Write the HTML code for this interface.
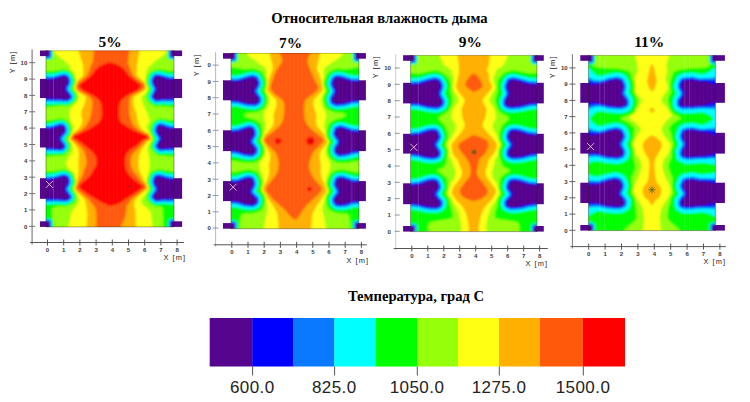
<!DOCTYPE html>
<html><head><meta charset="utf-8"><title>chart</title>
<style>
html,body{margin:0;padding:0;background:#fff;}
svg{display:block}
text{font-family:"Liberation Sans",sans-serif;}
.tk{font-size:6px;font-weight:bold;fill:#3a3a3a}
.al{font-size:7.4px;fill:#222;letter-spacing:1.1px}
.pt{font-family:"Liberation Serif",serif;font-weight:bold;font-size:15.4px;fill:#000}
.tt{font-family:"Liberation Serif",serif;font-weight:bold;font-size:14.6px;fill:#000}
.cb{font-size:17px;fill:#222;letter-spacing:0.45px}
</style></head><body>
<svg width="750" height="402" viewBox="0 0 750 402">
<defs><filter id="bl" x="-5%" y="-5%" width="110%" height="110%"><feGaussianBlur stdDeviation="1.0"/></filter>
<clipPath id="cp0"><rect x="46" y="50.5" width="128.0" height="176.4"/></clipPath><clipPath id="cp1"><rect x="231" y="53.1" width="127.9" height="175.6"/></clipPath><clipPath id="cp2"><rect x="410.6" y="55.2" width="126.3" height="176.4"/></clipPath><clipPath id="cp3"><rect x="588.5" y="55.2" width="126.9" height="175.4"/></clipPath></defs>
<rect width="750" height="402" fill="#fff"/>
<text x="379.5" y="23.3" text-anchor="middle" class="tt">Относительная влажность дыма</text>
<text x="416" y="300.5" text-anchor="middle" class="tt" style="font-size:14.6px">Температура, град С</text>
<rect x="209.7" y="318" width="42.9" height="48.5" fill="#56058f"/>
<rect x="252.3" y="318" width="41.3" height="48.5" fill="#0000ff"/>
<rect x="293.3" y="318" width="41.3" height="48.5" fill="#0a78ff"/>
<rect x="334.3" y="318" width="41.6" height="48.5" fill="#00ffff"/>
<rect x="375.6" y="318" width="41.7" height="48.5" fill="#00ff00"/>
<rect x="417" y="318" width="41.2" height="48.5" fill="#96ff0a"/>
<rect x="457.9" y="318" width="41.4" height="48.5" fill="#ffff14"/>
<rect x="499" y="318" width="41.3" height="48.5" fill="#ffb000"/>
<rect x="540" y="318" width="43.3" height="48.5" fill="#ff5a0a"/>
<rect x="583" y="318" width="42.0" height="48.5" fill="#ff0000"/>
<path d="M252.6,366.5v9" stroke="#444" stroke-width="0.9"/>
<text x="252.3" y="393" text-anchor="middle" class="cb">600.0</text>
<path d="M334.6,366.5v9" stroke="#444" stroke-width="0.9"/>
<text x="334.3" y="393" text-anchor="middle" class="cb">825.0</text>
<path d="M417.3,366.5v9" stroke="#444" stroke-width="0.9"/>
<text x="417.0" y="393" text-anchor="middle" class="cb">1050.0</text>
<path d="M499.3,366.5v9" stroke="#444" stroke-width="0.9"/>
<text x="499.0" y="393" text-anchor="middle" class="cb">1275.0</text>
<path d="M583.3,366.5v9" stroke="#444" stroke-width="0.9"/>
<text x="583.0" y="393" text-anchor="middle" class="cb">1500.0</text>
<rect x="40" y="178.2" width="7.0" height="20.6" fill="#56058f"/>
<rect x="173" y="178.2" width="9.1" height="20.6" fill="#56058f"/>
<rect x="40" y="128.2" width="7.0" height="19.3" fill="#56058f"/>
<rect x="173" y="128.2" width="9.1" height="19.3" fill="#56058f"/>
<rect x="40" y="78.9" width="7.0" height="19.1" fill="#56058f"/>
<rect x="173" y="78.9" width="9.1" height="19.1" fill="#56058f"/>
<rect x="40" y="50.5" width="7.0" height="5.6" fill="#56058f"/>
<rect x="173" y="50.5" width="9.1" height="5.6" fill="#56058f"/>
<rect x="40" y="221.3" width="7.0" height="5.6" fill="#56058f"/>
<rect x="173" y="221.3" width="9.1" height="5.6" fill="#56058f"/>
<g filter="url(#bl)" clip-path="url(#cp0)">
<rect x="42" y="46.5" width="136.0" height="184.4" fill="#56058f"/>
<path fill="#0000ff" fill-rule="evenodd" d="M170.8,230.7 166.8,230.8 109.8,230.9 50.2,230.7 49.5,230.6 49.5,222.7 49.2,221.7 48.2,221.4 42.2,221.4 42.1,217.7 42.1,210.2 42.2,198.3 48.2,198.3 50.8,198.8 58.8,198.8 60.8,199.2 63.8,199.3 65.8,199.7 67.2,199.2 68.6,198.2 69.2,197.7 69.4,197.2 69.2,196.2 67.2,193.2 64.4,189.7 64.3,189.2 65.0,187.7 66.6,185.7 68.3,181.7 68.2,180.7 67.4,178.2 66.6,177.2 65.2,176.6 63.8,176.3 60.2,177.2 53.2,179.5 50.8,179.6 48.8,180.0 42.2,180.1 42.0,163.2 42.2,147.4 46.2,147.4 48.2,147.8 53.2,147.9 54.8,148.3 58.2,148.4 60.2,148.8 61.2,148.6 62.2,148.1 63.2,147.1 63.5,146.2 63.4,145.7 61.2,142.2 59.5,140.2 58.6,138.7 58.6,138.2 59.3,137.2 63.2,133.2 64.5,131.2 64.8,130.2 63.6,126.7 62.8,126.0 61.2,125.6 58.9,126.2 55.8,127.4 50.8,129.0 42.2,129.1 42.0,113.7 42.2,98.1 46.2,98.1 47.8,98.3 50.8,98.4 53.2,98.8 60.8,98.9 62.8,99.3 66.8,99.4 69.2,98.2 70.1,97.2 70.1,96.7 69.7,95.7 64.6,89.2 64.9,88.2 67.0,85.2 68.3,81.7 68.2,80.5 67.2,78.0 66.8,77.2 66.2,76.8 64.8,76.3 63.8,76.2 52.8,79.6 48.8,79.6 46.2,80.1 42.2,80.1 42.0,61.2 42.2,56.5 48.2,56.5 49.2,56.2 49.5,55.2 49.5,46.8 53.8,46.5 103.2,46.5 166.2,46.5 170.2,46.7 171.0,46.8 171.0,55.2 171.2,56.2 172.2,56.5 177.8,56.5 178.0,61.2 177.8,79.9 173.8,79.9 172.2,79.6 168.2,79.6 158.2,76.3 157.2,76.2 155.5,76.7 154.7,77.2 154.1,78.2 153.2,81.2 154.5,85.2 156.9,88.7 156.7,89.7 153.8,95.3 153.3,96.7 153.8,97.7 155.8,99.2 156.8,99.4 159.8,99.3 161.8,98.9 168.2,98.8 170.8,98.4 177.8,98.3 178.0,117.7 177.8,129.1 170.2,129.0 166.8,127.9 161.2,125.8 160.2,125.6 158.8,126.0 157.9,126.7 157.2,128.4 156.9,130.2 157.1,131.2 158.8,134.6 161.1,137.2 161.5,138.2 161.0,139.7 159.2,142.3 157.6,145.7 157.8,146.7 159.2,148.2 160.0,148.7 160.8,148.8 162.8,148.4 166.2,148.3 168.2,147.8 177.8,147.5 178.0,162.7 177.8,180.1 172.2,180.0 170.2,179.6 168.2,179.5 159.6,176.7 158.2,176.4 156.8,176.7 155.8,177.4 155.2,178.3 154.4,181.2 154.8,183.0 155.8,185.4 157.6,188.2 157.9,189.2 157.5,190.2 155.3,193.2 153.4,196.7 153.7,197.7 155.2,199.1 156.2,199.6 157.2,199.7 158.8,199.3 160.8,199.2 162.8,198.8 170.2,198.8 172.8,198.3 177.8,198.3 177.9,215.2 177.8,221.4 172.2,221.4 171.2,221.7 171.0,222.7 171.0,230.6 170.8,230.7Z"/>
<path fill="#0a78ff" fill-rule="evenodd" d="M169.8,230.7 108.8,230.9 53.8,230.8 50.3,230.6 50.3,222.2 50.0,221.2 49.2,220.7 48.8,220.6 42.2,220.6 42.1,210.2 42.2,199.8 47.8,199.8 50.2,200.2 58.2,200.1 60.2,200.4 63.2,200.5 65.8,200.9 67.2,200.5 69.3,199.2 70.4,198.2 70.8,197.2 70.3,195.7 65.9,189.2 66.2,188.2 67.8,186.2 69.3,182.7 69.5,181.7 69.3,180.2 68.5,177.7 67.9,176.7 67.2,176.1 64.8,175.1 63.8,175.0 52.8,178.1 50.2,178.2 48.2,178.5 42.2,178.5 42.1,163.2 42.2,149.2 52.2,149.2 54.2,149.6 57.8,149.7 60.2,150.0 61.8,149.8 63.2,148.9 64.6,147.2 64.9,146.2 64.8,145.7 64.3,144.7 62.4,141.7 60.7,139.7 60.3,138.7 60.4,138.2 64.2,133.8 65.6,131.7 66.0,130.2 65.3,127.7 64.5,125.7 63.2,124.8 61.8,124.4 59.8,124.5 50.2,127.6 42.2,127.5 42.1,113.7 42.2,99.8 50.2,99.8 52.8,100.2 60.2,100.1 62.2,100.5 65.2,100.6 66.8,100.8 67.2,100.7 70.2,98.9 70.9,98.2 71.4,97.2 71.3,96.2 70.8,95.2 66.3,89.2 66.4,88.2 68.3,85.2 69.3,82.7 69.5,81.7 69.3,79.7 68.3,77.2 66.8,75.7 64.8,75.0 63.2,75.0 52.2,78.1 48.2,78.1 46.2,78.5 42.2,78.5 42.1,61.2 42.2,57.3 48.8,57.3 49.2,57.2 50.0,56.7 50.3,55.7 50.3,46.8 54.2,46.6 110.8,46.5 166.2,46.6 170.2,46.8 170.2,55.7 170.5,56.7 171.2,57.2 171.8,57.3 177.8,57.3 177.9,61.2 177.8,78.1 168.8,78.1 158.8,75.1 156.8,75.0 154.8,75.7 153.6,76.7 152.7,78.7 152.0,81.2 153.2,85.2 153.7,86.2 155.1,88.2 155.4,89.2 152.2,95.6 152.1,97.2 152.2,97.7 153.0,98.7 155.2,100.4 156.2,100.9 157.8,100.6 160.2,100.5 162.2,100.1 168.8,100.3 171.2,99.9 177.8,99.9 177.9,117.7 177.8,127.5 170.8,127.5 167.2,126.5 161.8,124.5 159.8,124.4 158.2,124.8 157.0,125.7 156.2,127.7 155.6,130.2 155.8,131.4 157.6,135.2 159.8,137.7 160.0,138.2 159.7,139.2 158.1,141.7 156.6,144.7 156.1,146.2 156.5,147.2 158.8,149.5 159.8,150.0 161.2,150.1 163.2,149.7 166.8,149.6 168.8,149.3 177.8,149.3 177.9,162.7 177.8,178.5 172.8,178.5 170.8,178.1 168.8,178.1 158.2,175.0 156.0,175.7 154.8,176.6 154.2,177.7 153.1,181.2 153.5,183.2 154.7,186.2 156.1,188.2 156.4,189.2 156.0,190.2 154.2,192.7 152.7,195.2 152.1,196.7 152.2,197.7 152.6,198.2 154.6,200.2 155.8,200.7 157.2,201.0 163.2,200.1 170.8,200.3 173.2,199.8 177.8,199.8 177.9,215.2 177.8,220.6 171.8,220.6 171.2,220.7 170.5,221.2 170.2,222.2 170.2,230.6 169.8,230.7Z"/>
<path fill="#00ffff" fill-rule="evenodd" d="M168.8,230.7 108.8,230.9 51.3,230.6 51.2,222.2 51.1,221.2 50.8,220.4 50.2,220.0 49.2,219.7 42.2,219.7 42.2,201.4 47.8,201.4 49.8,201.7 58.2,201.4 60.2,201.8 62.8,201.8 64.8,202.1 66.2,202.1 67.8,201.6 70.2,200.0 71.6,198.7 72.1,197.2 71.9,196.2 71.5,195.2 68.2,190.6 67.5,189.2 67.5,188.7 68.9,186.7 70.4,183.2 70.7,181.7 70.6,180.2 69.6,177.2 69.1,176.2 68.1,175.2 65.2,173.9 63.8,173.7 52.3,176.7 50.2,176.7 47.8,177.0 42.2,176.9 42.2,150.8 52.2,150.7 54.2,151.0 57.2,151.0 60.2,151.3 62.2,151.0 63.8,150.2 65.5,148.2 66.1,146.7 66.1,145.7 65.5,144.2 63.2,140.7 62.0,139.2 61.9,138.7 62.4,137.7 64.8,135.2 66.2,133.2 67.0,131.7 67.2,130.2 67.0,128.7 65.7,125.2 64.2,123.9 62.2,123.2 60.2,123.1 59.2,123.3 54.8,124.8 49.8,126.1 42.2,126.0 42.2,101.4 49.8,101.3 52.8,101.6 59.8,101.4 62.2,101.8 64.8,101.8 66.2,102.1 67.2,102.1 70.2,100.4 71.2,99.7 72.2,98.5 72.7,97.2 72.6,96.2 72.0,94.7 67.9,89.2 67.7,88.7 67.9,88.2 69.2,86.2 70.4,83.2 70.7,81.2 70.6,79.7 69.4,76.7 67.8,74.9 65.2,73.8 63.2,73.7 51.8,76.7 47.8,76.6 46.2,76.8 42.2,76.8 42.2,58.2 49.2,58.2 50.2,57.9 50.8,57.5 51.1,56.7 51.2,55.7 51.3,46.8 54.2,46.6 110.8,46.5 166.2,46.6 169.2,46.8 169.3,55.7 169.4,56.7 169.8,57.5 170.2,57.9 171.2,58.2 177.8,58.2 177.8,76.5 169.2,76.7 159.2,73.9 156.8,73.7 154.2,74.5 152.8,75.8 151.9,77.2 150.8,80.7 150.9,82.2 152.1,85.7 153.9,88.7 153.8,89.7 151.3,94.7 150.8,96.2 150.8,97.2 151.1,98.2 152.8,100.1 155.2,101.9 156.2,102.2 162.2,101.5 169.2,101.7 171.8,101.4 177.8,101.5 177.8,126.0 171.2,126.0 168.0,125.2 161.8,123.1 159.2,123.1 157.2,123.9 155.8,125.2 155.0,127.2 154.3,130.2 154.5,131.7 156.2,135.2 158.4,138.2 158.2,139.2 156.9,141.2 155.2,144.7 154.8,146.2 155.3,147.7 157.8,150.3 158.8,151.0 160.8,151.4 163.8,151.0 166.8,151.1 169.2,150.7 177.8,150.9 177.8,176.9 172.8,176.9 168.8,176.5 159.2,173.8 157.8,173.7 155.2,174.7 153.9,175.7 153.0,177.2 151.8,181.2 151.9,182.2 152.5,184.2 153.6,186.7 154.8,188.4 154.9,189.2 154.5,190.2 153.0,192.2 151.3,195.2 150.9,196.2 150.8,197.2 151.4,198.7 153.8,201.1 155.2,201.9 157.2,202.2 163.2,201.5 171.2,201.8 173.8,201.4 177.8,201.4 177.8,219.7 171.2,219.7 170.2,220.0 169.8,220.4 169.4,221.2 169.3,222.2 169.2,230.6 168.8,230.7Z"/>
<path fill="#00ff00" fill-rule="evenodd" d="M167.8,230.7 109.2,230.8 52.3,230.6 52.2,221.7 52.0,220.7 51.4,219.7 50.2,218.9 49.2,218.7 42.2,218.6 42.2,203.9 47.2,203.9 49.8,204.1 57.8,203.5 59.8,203.7 62.2,203.7 64.2,204.0 66.8,203.9 69.2,202.9 71.8,201.2 73.5,199.2 73.9,198.2 74.0,197.2 73.9,196.2 73.3,194.7 69.9,189.7 69.8,189.2 72.2,183.7 72.5,182.7 72.5,180.7 72.2,179.2 71.0,175.7 70.3,174.7 69.2,173.8 66.2,172.3 64.8,171.9 63.8,171.8 62.2,172.0 52.2,174.3 42.2,174.5 42.2,153.4 46.8,153.3 51.8,153.0 53.8,153.2 56.8,153.1 58.8,153.3 60.8,153.3 62.8,152.9 65.2,151.3 66.7,149.7 67.3,148.7 67.9,147.2 68.0,145.7 67.3,143.7 64.5,139.2 64.4,138.7 64.5,138.2 66.7,135.7 68.0,133.7 68.9,131.7 69.0,130.2 68.7,128.2 67.7,125.2 67.2,124.2 65.7,122.7 63.2,121.4 61.2,121.2 59.2,121.2 49.8,123.7 42.2,123.5 42.2,103.9 46.2,103.9 49.8,103.7 52.2,103.9 59.8,103.4 61.8,103.7 64.2,103.7 66.2,104.0 67.8,103.8 68.8,103.5 71.2,102.0 72.8,100.8 74.0,99.2 74.5,97.2 74.4,95.7 73.8,94.2 70.2,89.2 70.3,88.2 72.4,83.2 72.5,80.2 72.2,78.7 71.0,75.7 70.2,74.7 68.8,73.3 65.8,72.0 63.2,71.8 61.8,72.0 51.8,74.4 47.2,74.1 42.2,74.2 42.2,59.2 49.2,59.2 50.2,59.0 51.4,58.2 52.0,57.2 52.2,56.2 52.2,46.8 110.8,46.6 168.3,46.8 168.3,56.2 168.8,57.8 169.7,58.7 170.8,59.2 177.8,59.2 177.8,74.0 169.2,74.3 159.2,71.8 157.2,71.8 155.8,72.0 152.8,73.2 150.8,75.2 149.9,77.2 149.0,80.7 149.0,82.2 149.4,83.7 150.5,86.7 151.7,89.2 151.5,90.2 149.3,94.7 149.0,96.2 149.0,97.7 149.3,98.7 149.8,99.7 151.8,101.7 154.2,103.5 156.2,104.1 162.8,103.6 169.2,104.0 171.8,103.8 177.8,103.9 177.8,123.5 171.2,123.6 162.2,121.1 160.2,121.1 158.2,121.3 155.8,122.6 154.3,124.2 153.2,126.7 152.5,130.2 152.6,131.7 153.0,132.7 156.0,138.7 153.3,144.7 153.0,145.7 153.1,147.2 153.5,148.2 154.2,149.2 156.8,151.9 158.2,152.9 160.8,153.4 162.2,153.4 164.2,153.1 167.2,153.3 169.2,153.1 173.8,153.4 177.8,153.4 177.8,174.4 169.2,174.2 159.2,171.8 157.2,171.9 153.8,173.4 152.3,174.7 151.3,176.7 150.0,180.7 150.0,182.2 150.3,183.2 152.7,189.2 149.5,194.7 149.0,196.2 149.0,197.7 149.3,198.7 149.8,199.7 152.2,202.2 153.2,203.0 154.8,203.7 156.8,204.1 158.2,204.1 163.8,203.6 171.2,204.2 177.8,204.0 177.8,218.6 171.2,218.7 170.2,218.9 169.1,219.7 168.5,220.7 168.3,221.7 168.2,230.6 167.8,230.7Z"/>
<path fill="#96ff0a" fill-rule="evenodd" d="M162.8,230.6 109.2,230.8 53.6,230.6 53.6,221.7 53.1,219.7 52.4,218.2 52.0,208.7 52.2,208.2 52.8,207.7 54.0,207.2 56.2,206.6 61.8,206.3 64.8,206.4 66.8,206.3 68.2,205.9 69.9,205.2 72.3,203.7 74.9,201.2 75.8,199.8 76.1,198.7 76.2,196.2 75.2,193.6 73.1,190.2 72.7,189.2 72.9,187.7 74.6,183.7 74.8,182.2 74.7,179.7 73.2,175.1 72.0,173.2 70.8,172.0 69.4,171.2 65.6,169.7 63.8,169.4 62.2,169.5 51.8,171.3 48.8,171.1 42.2,171.0 42.2,156.8 46.2,156.8 51.2,156.1 53.2,156.1 56.2,155.8 58.8,155.9 61.3,155.7 62.8,155.4 64.2,154.7 66.8,153.0 68.8,150.7 69.8,148.8 70.2,147.2 70.3,145.7 70.0,144.2 69.2,142.6 67.5,139.7 67.3,138.7 69.8,135.2 70.8,133.2 71.2,131.2 71.3,129.2 71.0,127.7 69.8,124.2 68.9,122.7 66.9,120.7 63.8,119.1 62.2,118.8 59.2,118.6 49.2,120.4 46.2,120.1 42.2,120.1 42.2,107.4 46.2,107.4 49.2,106.9 51.8,106.9 59.2,106.0 61.2,106.1 63.8,106.1 66.2,106.3 68.8,105.9 72.8,103.7 75.2,101.4 76.4,99.2 76.8,96.7 76.4,94.7 75.8,93.1 72.9,88.7 73.0,87.7 74.3,84.7 74.7,83.2 74.8,80.2 74.6,78.7 72.8,74.2 70.2,71.6 68.8,70.7 66.2,69.8 63.2,69.4 61.8,69.5 51.2,71.3 46.8,70.7 42.2,70.7 42.2,60.1 49.8,60.0 51.2,59.5 52.2,58.5 52.9,57.2 53.0,56.2 53.0,46.8 110.8,46.6 167.5,46.8 167.5,56.2 167.6,57.2 168.2,58.5 169.2,59.5 170.8,60.0 177.8,60.1 177.8,70.6 173.8,70.6 169.8,71.1 159.8,69.3 157.2,69.4 155.2,69.7 151.8,71.2 149.2,73.5 148.2,75.2 147.0,78.7 146.7,80.2 146.9,83.2 149.1,89.2 148.9,90.2 147.2,93.6 146.9,94.7 146.7,96.2 146.8,98.2 147.2,99.7 147.8,100.8 150.0,103.2 153.2,105.6 155.8,106.5 163.2,106.3 170.2,107.3 177.8,107.4 177.8,120.1 171.2,120.2 162.2,118.4 158.9,118.7 157.2,119.2 154.5,120.7 153.2,121.9 152.2,123.2 151.2,125.5 150.2,129.6 150.2,131.2 150.6,132.7 153.3,138.7 153.1,139.7 151.2,143.6 150.9,144.7 150.7,146.2 150.9,147.7 151.2,148.8 152.1,150.2 155.2,153.6 157.5,155.2 159.8,155.8 162.2,156.1 164.8,156.0 167.8,156.3 169.8,156.2 173.8,156.8 177.8,156.8 177.8,170.9 169.8,171.0 159.8,169.2 158.2,169.2 156.8,169.5 153.0,171.2 151.8,172.0 150.8,173.0 149.2,175.6 147.9,179.7 147.7,181.2 147.8,182.7 148.2,184.3 149.6,187.7 149.8,189.2 149.5,190.2 147.8,193.0 146.9,195.2 146.7,197.2 147.0,199.2 147.7,200.7 148.5,201.7 151.0,204.2 152.4,205.2 154.2,206.1 155.8,206.5 161.5,207.2 162.5,207.7 162.7,208.2 163.0,226.7 163.0,230.6 162.8,230.6Z"/>
<path fill="#ffff14" fill-rule="evenodd" d="M152.2,230.6 68.1,230.6 68.1,226.2 69.8,220.7 70.7,214.7 71.1,213.2 72.5,210.7 77.2,204.7 78.2,202.5 78.7,200.7 78.5,199.2 77.1,194.7 73.9,189.2 74.1,187.7 75.6,184.2 75.9,182.2 75.7,179.2 74.6,175.2 73.6,173.2 72.2,171.6 68.2,168.2 66.6,165.2 66.1,163.2 66.2,162.2 66.7,160.7 69.8,156.5 71.2,153.8 72.1,151.7 72.4,150.2 72.1,146.7 71.5,144.2 68.7,139.2 68.7,138.7 70.8,135.6 71.9,133.2 72.6,131.2 73.6,126.7 73.1,125.2 71.0,121.7 70.1,119.7 69.4,115.2 69.3,113.2 69.5,111.7 70.4,109.2 71.5,107.2 72.3,106.2 75.2,103.5 77.1,101.2 78.1,99.2 78.6,97.7 78.6,96.7 78.2,95.2 77.4,93.7 74.2,88.7 74.3,87.7 75.7,83.7 76.0,79.7 75.6,77.2 74.6,74.2 73.7,72.7 70.8,69.2 69.8,66.0 68.9,64.7 63.8,60.2 57.2,55.2 54.7,52.7 54.2,52.0 54.1,51.2 54.1,46.8 166.4,46.8 166.4,51.2 166.2,52.4 165.8,53.0 163.3,55.2 156.9,59.7 154.4,61.7 149.0,66.7 147.8,68.2 147.3,69.2 146.2,73.3 145.4,78.2 145.3,79.7 145.8,83.2 147.6,88.7 147.6,89.7 146.8,91.4 145.2,93.4 142.2,96.2 141.7,97.7 142.2,101.4 143.2,104.7 147.0,112.7 148.6,116.7 149.4,119.2 149.5,120.7 149.2,121.7 146.7,125.7 146.5,126.7 146.6,127.7 148.2,130.4 152.1,138.7 151.8,140.0 149.9,142.7 148.8,144.7 148.2,146.7 147.6,149.7 147.8,151.7 148.9,156.2 149.4,159.2 149.6,163.7 148.8,171.2 146.9,178.2 146.5,181.2 146.8,183.2 148.4,187.7 148.6,189.2 147.8,190.7 144.8,194.9 142.0,198.2 141.4,199.7 141.3,200.7 141.8,202.7 142.7,204.7 143.7,205.7 148.0,208.7 149.7,210.7 150.7,212.7 151.3,215.2 152.0,222.7 152.3,226.2 152.2,230.6Z"/>
<path fill="#ffb000" fill-rule="evenodd" d="M135.8,230.6 86.7,230.6 86.7,225.7 87.3,213.2 86.5,207.2 85.2,200.7 84.7,199.7 83.6,198.2 78.8,193.8 77.2,192.2 75.2,189.7 74.9,188.7 75.0,187.7 76.5,184.2 77.1,178.7 78.2,174.7 78.7,171.7 78.8,169.2 78.5,162.7 79.0,155.2 78.7,150.7 78.3,149.2 77.7,148.2 74.4,143.7 72.7,141.7 70.2,139.8 69.8,139.2 70.1,138.2 73.2,133.0 76.4,130.7 78.7,128.7 80.2,126.7 81.7,123.7 82.3,121.7 82.4,120.2 81.2,114.7 81.2,112.2 82.0,109.7 84.8,103.8 85.9,98.7 85.8,97.2 85.1,96.2 83.8,95.2 78.2,92.2 75.8,89.4 75.2,88.2 77.2,81.1 82.5,76.2 83.2,75.2 83.4,74.2 83.1,69.2 83.2,64.7 80.4,57.2 79.1,52.7 78.7,50.7 78.7,46.8 139.3,46.8 139.1,53.7 137.8,59.2 137.3,62.7 136.8,65.2 136.8,69.2 136.6,74.2 136.8,75.2 138.0,76.7 144.3,82.2 144.8,83.1 145.8,86.2 146.1,88.2 145.2,89.4 142.8,91.6 136.2,95.2 134.4,96.7 133.9,97.7 133.6,99.2 133.4,102.2 133.6,104.2 134.2,107.2 136.1,112.7 137.8,121.7 139.2,125.7 140.9,128.2 142.9,130.2 144.9,131.7 148.2,133.4 148.8,133.9 150.5,137.2 151.1,138.7 150.8,139.5 147.3,141.7 144.8,144.7 142.5,148.2 141.0,150.7 139.6,153.7 138.9,156.2 138.5,160.2 138.5,163.7 138.7,168.2 139.2,170.7 139.8,172.2 142.1,176.2 143.7,180.2 145.8,183.2 147.5,188.2 147.2,189.1 146.8,189.6 142.6,192.7 136.8,197.7 135.5,199.2 134.8,200.7 134.0,205.7 135.0,208.7 135.4,211.7 135.9,225.2 135.9,230.6 135.8,230.6Z"/>
<path fill="#ff5a0a" fill-rule="evenodd" d="M120.2,230.6 96.6,230.6 96.2,213.2 95.7,210.2 94.6,206.7 94.0,205.7 91.8,203.3 88.6,199.2 77.8,190.0 76.8,189.1 76.2,188.2 76.3,187.2 77.8,183.2 80.9,178.7 82.4,175.7 84.2,169.7 86.3,164.7 86.7,162.7 86.6,160.7 85.3,154.2 84.4,151.7 83.3,149.7 82.1,148.2 76.1,142.2 74.3,140.7 71.2,138.9 71.1,138.7 71.2,138.2 73.2,134.7 73.8,134.2 78.7,131.7 82.5,129.2 85.3,126.7 87.5,123.7 89.2,120.2 90.8,115.2 92.0,108.2 92.4,103.7 92.3,101.7 91.8,100.2 90.8,98.2 89.6,96.7 87.7,95.2 81.7,92.2 79.8,91.0 77.2,88.7 76.8,88.2 76.5,87.2 77.7,83.2 78.1,82.7 82.8,79.3 85.8,76.7 87.5,74.7 88.5,72.7 90.8,65.7 92.5,62.7 92.9,61.2 93.7,54.7 93.8,46.8 129.4,46.8 129.2,52.8 127.7,62.7 129.2,65.9 131.1,71.7 132.2,74.2 133.7,76.2 137.2,79.3 143.2,83.7 143.8,84.3 144.3,85.7 144.3,86.7 143.8,87.7 142.4,89.2 140.6,90.7 138.3,92.2 132.1,95.2 130.3,96.7 129.8,97.7 129.4,99.7 129.1,105.2 129.3,113.2 129.6,115.7 131.0,120.7 132.5,123.7 135.1,127.2 138.1,129.7 142.2,132.2 148.1,134.7 148.8,135.7 150.0,138.2 149.8,138.8 146.6,140.2 144.4,141.7 140.2,146.3 132.7,153.7 131.3,155.7 130.7,158.7 130.6,162.2 130.7,164.7 131.4,167.2 132.5,170.2 133.9,172.2 137.6,176.2 140.9,181.2 141.9,182.2 144.8,184.2 145.6,185.7 145.9,187.2 145.4,188.2 144.3,189.2 139.5,192.7 132.0,198.7 130.6,200.2 128.5,203.2 126.4,205.7 126.1,206.7 126.4,208.7 126.3,210.2 125.7,214.7 125.2,216.7 123.8,220.3 120.7,226.2 120.6,230.6 120.2,230.6Z"/>
<path fill="#ff0000" fill-rule="evenodd" d="M111.2,205.8 110.2,205.9 108.8,205.5 103.1,203.2 99.4,201.2 91.9,196.7 87.3,193.7 81.2,189.2 79.3,187.2 79.0,186.2 79.2,185.5 79.8,184.7 88.1,177.7 89.6,176.2 91.1,174.2 95.9,165.7 96.6,163.7 96.6,161.2 96.0,158.2 95.1,155.7 93.8,153.7 91.5,151.2 88.8,148.7 79.4,141.2 77.2,139.9 73.7,138.2 73.1,137.7 73.2,137.0 74.2,135.7 81.2,132.8 88.2,129.4 93.2,126.5 97.9,123.2 99.5,121.7 100.4,120.2 101.4,117.2 101.9,114.7 101.9,110.7 101.5,106.2 101.0,103.2 100.0,101.2 97.6,98.7 94.3,96.2 91.2,94.5 85.4,91.7 82.3,89.7 79.7,87.2 79.2,86.2 79.3,85.2 80.7,83.7 85.2,80.6 90.0,76.7 92.3,74.2 95.8,69.6 98.3,67.2 100.7,65.7 103.2,64.5 107.2,63.1 109.8,62.5 111.8,62.7 116.1,64.2 119.3,65.7 121.7,67.2 124.4,69.7 127.7,74.2 129.5,76.2 133.8,79.8 139.2,83.7 140.3,84.7 140.7,85.7 140.5,86.7 139.8,87.7 137.0,90.2 134.6,91.7 128.8,94.5 126.2,95.9 122.7,98.7 120.6,101.2 119.9,102.7 119.5,104.2 118.9,108.2 118.7,111.7 118.9,116.7 119.9,120.7 120.9,122.2 122.6,123.7 130.2,128.6 133.8,130.5 138.2,132.6 147.0,135.7 147.8,136.2 148.3,137.2 148.2,137.7 147.8,137.9 143.8,139.5 141.6,140.7 137.2,145.2 131.5,148.7 129.5,150.2 128.1,151.7 126.5,153.7 125.8,155.2 125.4,157.2 125.1,161.2 125.2,164.7 126.0,169.2 127.1,172.2 129.9,175.7 133.4,179.2 136.8,181.9 142.2,185.5 142.7,186.2 142.5,187.2 140.4,189.2 134.8,193.2 125.2,199.2 120.5,202.7 117.1,204.2 111.2,205.8Z"/>
</g>
<rect x="49.0" y="50.5" width="0.7" height="176.4" fill="#fff" opacity="0.05"/>
<rect x="53.0" y="50.5" width="0.7" height="176.4" fill="#fff" opacity="0.05"/>
<rect x="57.0" y="50.5" width="0.7" height="176.4" fill="#fff" opacity="0.05"/>
<rect x="61.0" y="50.5" width="0.7" height="176.4" fill="#fff" opacity="0.05"/>
<rect x="65.0" y="50.5" width="0.7" height="176.4" fill="#fff" opacity="0.05"/>
<rect x="69.0" y="50.5" width="0.7" height="176.4" fill="#fff" opacity="0.05"/>
<rect x="73.0" y="50.5" width="0.7" height="176.4" fill="#fff" opacity="0.05"/>
<rect x="77.0" y="50.5" width="0.7" height="176.4" fill="#fff" opacity="0.05"/>
<rect x="81.0" y="50.5" width="0.7" height="176.4" fill="#fff" opacity="0.05"/>
<rect x="85.0" y="50.5" width="0.7" height="176.4" fill="#fff" opacity="0.05"/>
<rect x="89.0" y="50.5" width="0.7" height="176.4" fill="#fff" opacity="0.05"/>
<rect x="93.0" y="50.5" width="0.7" height="176.4" fill="#fff" opacity="0.05"/>
<rect x="97.0" y="50.5" width="0.7" height="176.4" fill="#fff" opacity="0.05"/>
<rect x="101.0" y="50.5" width="0.7" height="176.4" fill="#fff" opacity="0.05"/>
<rect x="105.0" y="50.5" width="0.7" height="176.4" fill="#fff" opacity="0.05"/>
<rect x="109.0" y="50.5" width="0.7" height="176.4" fill="#fff" opacity="0.05"/>
<rect x="113.0" y="50.5" width="0.7" height="176.4" fill="#fff" opacity="0.05"/>
<rect x="117.0" y="50.5" width="0.7" height="176.4" fill="#fff" opacity="0.05"/>
<rect x="121.0" y="50.5" width="0.7" height="176.4" fill="#fff" opacity="0.05"/>
<rect x="125.0" y="50.5" width="0.7" height="176.4" fill="#fff" opacity="0.05"/>
<rect x="129.0" y="50.5" width="0.7" height="176.4" fill="#fff" opacity="0.05"/>
<rect x="133.0" y="50.5" width="0.7" height="176.4" fill="#fff" opacity="0.05"/>
<rect x="137.0" y="50.5" width="0.7" height="176.4" fill="#fff" opacity="0.05"/>
<rect x="141.0" y="50.5" width="0.7" height="176.4" fill="#fff" opacity="0.05"/>
<rect x="145.0" y="50.5" width="0.7" height="176.4" fill="#fff" opacity="0.05"/>
<rect x="149.0" y="50.5" width="0.7" height="176.4" fill="#fff" opacity="0.05"/>
<rect x="153.0" y="50.5" width="0.7" height="176.4" fill="#fff" opacity="0.05"/>
<rect x="157.0" y="50.5" width="0.7" height="176.4" fill="#fff" opacity="0.05"/>
<rect x="161.0" y="50.5" width="0.7" height="176.4" fill="#fff" opacity="0.05"/>
<rect x="165.0" y="50.5" width="0.7" height="176.4" fill="#fff" opacity="0.05"/>
<rect x="169.0" y="50.5" width="0.7" height="176.4" fill="#fff" opacity="0.05"/>
<rect x="53.0" y="50.5" width="0.8" height="176.4" fill="#fff" opacity="0.2"/>
<path d="M46,50.5V226.9H174V50.5" fill="none" stroke="#2a2a10" stroke-width="0.7" opacity="0.6"/>
<path d="M46,50.8H174" fill="none" stroke="#3a2a10" stroke-width="0.7" opacity="0.4"/>
<path d="M32.1,49.5V244.5" stroke="#8a8a8a" stroke-width="1.3" fill="none"/>
<path d="M30.1,242.5H183.9" stroke="#555" stroke-width="1" fill="none"/>
<path d="M29.1,226.3h6" stroke="#666" stroke-width="0.9"/>
<text x="27.3" y="228.6" text-anchor="end" class="tk">0</text>
<path d="M29.1,209.9h6" stroke="#666" stroke-width="0.9"/>
<text x="27.3" y="212.2" text-anchor="end" class="tk">1</text>
<path d="M29.1,193.6h6" stroke="#666" stroke-width="0.9"/>
<text x="27.3" y="195.9" text-anchor="end" class="tk">2</text>
<path d="M29.1,177.2h6" stroke="#666" stroke-width="0.9"/>
<text x="27.3" y="179.5" text-anchor="end" class="tk">3</text>
<path d="M29.1,160.9h6" stroke="#666" stroke-width="0.9"/>
<text x="27.3" y="163.2" text-anchor="end" class="tk">4</text>
<path d="M29.1,144.5h6" stroke="#666" stroke-width="0.9"/>
<text x="27.3" y="146.8" text-anchor="end" class="tk">5</text>
<path d="M29.1,128.1h6" stroke="#666" stroke-width="0.9"/>
<text x="27.3" y="130.4" text-anchor="end" class="tk">6</text>
<path d="M29.1,111.8h6" stroke="#666" stroke-width="0.9"/>
<text x="27.3" y="114.1" text-anchor="end" class="tk">7</text>
<path d="M29.1,95.4h6" stroke="#666" stroke-width="0.9"/>
<text x="27.3" y="97.7" text-anchor="end" class="tk">8</text>
<path d="M29.1,79.1h6" stroke="#666" stroke-width="0.9"/>
<text x="27.3" y="81.4" text-anchor="end" class="tk">9</text>
<path d="M29.1,62.7h6" stroke="#666" stroke-width="0.9"/>
<text x="27.3" y="65.0" text-anchor="end" class="tk">10</text>
<path d="M47.5,239.5v6" stroke="#555" stroke-width="1"/>
<text x="47.5" y="251.7" text-anchor="middle" class="tk">0</text>
<path d="M63.7,239.5v6" stroke="#555" stroke-width="1"/>
<text x="63.7" y="251.7" text-anchor="middle" class="tk">1</text>
<path d="M79.9,239.5v6" stroke="#555" stroke-width="1"/>
<text x="79.9" y="251.7" text-anchor="middle" class="tk">2</text>
<path d="M96.1,239.5v6" stroke="#555" stroke-width="1"/>
<text x="96.1" y="251.7" text-anchor="middle" class="tk">3</text>
<path d="M112.3,239.5v6" stroke="#555" stroke-width="1"/>
<text x="112.3" y="251.7" text-anchor="middle" class="tk">4</text>
<path d="M128.5,239.5v6" stroke="#555" stroke-width="1"/>
<text x="128.5" y="251.7" text-anchor="middle" class="tk">5</text>
<path d="M144.7,239.5v6" stroke="#555" stroke-width="1"/>
<text x="144.7" y="251.7" text-anchor="middle" class="tk">6</text>
<path d="M160.9,239.5v6" stroke="#555" stroke-width="1"/>
<text x="160.9" y="251.7" text-anchor="middle" class="tk">7</text>
<path d="M177.1,239.5v6" stroke="#555" stroke-width="1"/>
<text x="177.1" y="251.7" text-anchor="middle" class="tk">8</text>
<text x="174.8" y="260.3" text-anchor="middle" class="al">X [m]</text>
<text transform="translate(14.6,62) rotate(-90)" text-anchor="middle" class="al">Y [m]</text>
<path d="M45.9,180.9l7,7M45.9,187.9l7,-7" stroke="#f6dcea" stroke-width="0.9" fill="none" opacity="0.9"/>
<circle cx="129.5" cy="186.7" r="1.4" fill="#b01818" opacity="0.7"/>
<text x="110" y="47.3" text-anchor="middle" class="pt">5%</text>
<rect x="223" y="181.1" width="9.0" height="20.0" fill="#56058f"/>
<rect x="357.9" y="181.1" width="8.0" height="20.0" fill="#56058f"/>
<rect x="223" y="130.3" width="9.0" height="20.8" fill="#56058f"/>
<rect x="357.9" y="130.3" width="8.0" height="20.8" fill="#56058f"/>
<rect x="223" y="80.3" width="9.0" height="20.0" fill="#56058f"/>
<rect x="357.9" y="80.3" width="8.0" height="20.0" fill="#56058f"/>
<rect x="223" y="53.1" width="9.0" height="5.6" fill="#56058f"/>
<rect x="357.9" y="53.1" width="8.0" height="5.6" fill="#56058f"/>
<rect x="223" y="223.1" width="9.0" height="5.6" fill="#56058f"/>
<rect x="357.9" y="223.1" width="8.0" height="5.6" fill="#56058f"/>
<g filter="url(#bl)" clip-path="url(#cp1)">
<rect x="227" y="49.1" width="135.9" height="183.6" fill="#56058f"/>
<path fill="#0000ff" fill-rule="evenodd" d="M355.7,232.5 351.7,232.7 295.7,232.7 235.2,232.5 234.5,232.5 234.5,224.4 234.2,223.5 233.2,223.2 227.3,223.2 227.1,218.4 227.3,200.6 232.2,200.6 234.2,201.0 237.2,201.2 245.8,203.9 249.2,204.2 250.7,204.5 251.7,204.6 253.2,204.4 255.5,202.9 256.2,201.4 256.4,200.4 256.3,199.4 255.8,198.4 250.4,192.9 249.6,191.9 249.6,190.9 252.0,187.4 252.7,185.9 253.3,183.9 253.2,182.9 252.2,180.0 251.4,178.9 249.7,178.3 247.7,178.4 244.2,179.4 239.2,181.6 237.2,182.2 232.7,182.3 231.2,182.5 227.3,182.5 227.0,165.4 227.3,150.6 234.7,150.6 236.2,151.0 238.2,151.2 239.7,151.9 244.7,153.5 246.2,153.6 247.7,154.0 251.7,154.3 252.7,153.9 254.6,152.4 255.3,149.9 255.2,148.9 254.2,147.4 251.8,144.4 249.9,142.4 249.3,141.4 249.5,140.9 252.2,137.4 253.8,133.9 253.8,132.9 253.2,130.9 252.7,129.5 252.2,128.9 250.7,128.1 249.7,127.8 247.2,128.4 244.2,129.4 238.2,131.7 236.2,131.8 234.2,132.2 227.3,132.2 227.1,114.9 227.3,100.0 233.2,100.1 235.2,100.5 238.2,100.6 243.7,102.4 248.2,103.5 252.2,103.6 254.2,104.0 255.2,103.8 257.7,102.3 258.4,101.4 258.9,99.4 258.7,98.4 257.7,96.9 253.7,91.4 253.8,90.4 256.2,86.9 257.6,83.4 257.6,82.9 256.4,79.4 255.7,78.4 253.7,77.7 252.2,77.4 248.2,78.4 240.2,81.0 237.7,81.6 227.3,81.7 227.0,63.4 227.3,59.1 233.2,59.1 234.2,58.8 234.5,57.9 234.5,49.3 238.7,49.1 293.2,49.1 351.7,49.1 355.2,49.3 355.9,49.3 355.9,57.9 356.2,58.8 357.2,59.1 362.6,59.1 362.9,63.4 362.6,81.7 352.7,81.6 350.2,81.0 342.2,78.4 338.2,77.4 336.7,77.7 335.0,78.4 334.2,79.4 333.2,81.9 332.9,83.4 334.2,87.4 336.0,89.9 336.4,90.9 336.3,91.4 334.2,94.9 332.2,98.4 332.1,98.9 332.8,101.9 333.7,102.6 336.7,104.0 338.7,103.6 342.2,103.5 344.7,103.0 350.2,101.2 352.7,100.6 355.2,100.5 357.2,100.1 362.6,100.0 362.8,114.9 362.6,132.2 355.7,132.2 353.7,131.8 351.7,131.7 345.7,129.4 340.2,127.8 338.2,128.4 337.2,128.8 336.7,129.2 335.3,133.4 335.3,133.9 336.7,136.4 338.1,138.4 340.4,140.9 340.6,141.4 340.4,141.9 337.7,145.9 336.1,148.9 336.2,151.4 336.7,152.4 337.7,153.4 339.2,154.3 343.7,154.0 346.7,153.4 352.7,151.2 355.7,150.6 362.6,150.6 362.9,165.4 362.6,182.3 352.7,182.2 348.2,180.4 342.2,178.4 340.2,178.3 338.2,178.8 337.2,179.4 336.2,182.4 335.9,183.9 336.1,184.9 337.7,188.0 339.4,190.4 339.8,191.4 339.5,192.4 335.1,198.4 334.6,199.4 334.6,200.4 335.2,202.4 335.7,203.0 337.2,204.1 338.2,204.5 339.2,204.6 340.2,204.5 341.7,204.2 344.7,204.0 353.2,201.2 356.7,201.0 358.7,200.6 362.6,200.6 362.8,218.4 362.6,223.2 357.2,223.2 356.2,223.5 355.9,224.4 355.9,232.5 355.7,232.5Z"/>
<path fill="#0a78ff" fill-rule="evenodd" d="M354.7,232.5 294.7,232.7 238.7,232.6 235.3,232.5 235.3,223.9 235.0,222.9 234.2,222.5 233.7,222.4 227.3,222.4 227.1,218.4 227.3,202.2 231.7,202.2 233.7,202.6 236.7,202.6 245.7,205.4 248.7,205.5 250.7,205.9 252.7,205.9 253.7,205.7 256.6,203.9 257.2,202.9 257.7,200.9 257.6,198.9 257.2,197.9 251.8,192.4 251.2,191.4 253.8,186.9 254.7,183.9 254.5,182.4 253.5,179.4 253.0,178.4 252.2,177.7 250.2,177.0 247.7,177.0 243.7,178.1 238.7,180.1 236.7,180.7 227.3,180.8 227.1,165.4 227.3,152.1 233.7,152.1 237.2,152.6 243.7,154.8 247.2,155.3 249.7,155.4 251.7,155.8 253.2,155.2 255.6,153.4 256.1,152.4 256.7,149.9 256.6,148.9 256.2,147.9 253.2,143.9 251.4,141.9 251.2,141.4 251.3,140.9 253.5,137.9 255.1,134.4 255.1,132.4 254.2,129.4 253.7,128.4 252.7,127.6 250.7,126.6 249.2,126.5 246.7,127.1 242.6,128.4 237.7,130.2 235.7,130.3 233.7,130.7 227.3,130.7 227.1,114.9 227.3,101.6 232.7,101.6 234.7,102.0 237.7,102.1 243.2,103.7 247.7,104.8 251.2,104.8 253.2,105.3 254.7,105.3 255.7,105.1 258.7,103.3 259.5,102.4 260.2,99.9 260.1,98.4 259.7,97.5 255.4,91.4 255.3,90.9 255.4,90.4 257.7,87.0 259.1,83.4 259.0,82.4 257.5,78.4 256.6,77.4 253.2,76.1 252.2,76.0 247.7,77.1 239.7,79.6 237.2,80.2 227.3,80.2 227.1,63.4 227.3,59.9 233.7,59.9 234.2,59.8 235.0,59.4 235.3,58.4 235.3,49.3 238.7,49.2 294.7,49.1 351.7,49.2 355.1,49.3 355.1,58.4 355.4,59.4 356.2,59.8 356.7,59.9 362.6,59.9 362.8,63.4 362.6,80.2 353.2,80.2 350.7,79.6 342.7,77.1 337.7,76.0 334.7,76.9 333.7,77.5 333.1,78.4 331.9,81.4 331.4,83.4 332.9,87.9 334.4,89.9 334.7,90.9 333.9,92.9 330.8,98.4 330.8,99.4 331.5,102.4 331.8,102.9 332.7,103.7 335.7,105.1 337.2,105.3 339.2,104.9 342.7,104.8 345.2,104.3 353.2,102.1 355.7,102.0 357.7,101.6 362.6,101.6 362.8,114.9 362.6,130.7 356.2,130.7 354.2,130.3 352.2,130.2 344.7,127.6 340.7,126.5 339.7,126.5 336.7,127.5 335.7,128.1 335.2,128.9 333.8,133.4 334.0,134.4 335.4,136.9 336.7,138.9 338.5,140.9 338.7,141.4 338.4,142.4 334.9,147.9 334.7,148.9 334.8,151.4 335.2,152.5 336.2,153.9 338.2,155.4 338.7,155.6 339.7,155.8 341.2,155.4 344.2,155.3 347.2,154.8 353.2,152.7 356.2,152.2 362.6,152.1 362.8,165.4 362.6,180.7 353.2,180.7 348.7,179.0 342.7,177.1 341.7,177.0 339.2,177.0 337.2,177.7 336.2,178.5 335.4,180.4 334.4,183.9 335.2,186.0 336.9,189.4 338.0,190.9 338.1,191.4 338.0,191.9 337.1,193.4 333.7,198.0 333.2,199.4 333.3,200.9 333.9,202.9 335.2,204.4 336.7,205.4 337.7,205.8 339.7,205.9 342.2,205.5 345.2,205.4 353.7,202.6 357.2,202.6 358.7,202.2 362.6,202.2 362.8,218.4 362.6,222.4 356.7,222.4 356.2,222.5 355.4,222.9 355.1,223.9 355.1,232.5 354.7,232.5Z"/>
<path fill="#00ffff" fill-rule="evenodd" d="M353.7,232.5 294.7,232.6 236.2,232.5 236.2,223.9 236.1,222.9 235.7,222.2 235.2,221.8 234.2,221.5 227.3,221.4 227.3,203.8 231.2,203.8 233.7,204.1 236.2,204.1 245.2,206.8 248.2,206.8 250.2,207.2 253.2,207.2 254.7,206.7 257.7,204.8 258.5,203.4 259.0,200.9 259.0,198.9 258.5,197.4 253.7,192.4 253.0,191.4 253.2,190.7 255.3,186.9 255.9,184.9 256.0,183.9 255.9,182.4 254.8,178.9 254.0,177.4 253.2,176.6 250.7,175.7 247.7,175.6 243.2,176.7 238.2,178.7 236.2,179.2 227.3,179.1 227.3,153.7 233.2,153.7 236.7,154.1 243.7,156.3 251.7,157.2 252.7,157.0 254.2,156.2 256.7,154.3 257.4,152.9 257.9,150.9 258.0,149.4 257.9,148.4 257.5,147.4 256.5,145.9 253.2,141.9 253.0,141.4 253.4,140.4 254.5,138.9 256.1,135.9 256.5,133.9 256.4,131.9 255.5,128.9 255.0,127.9 253.7,126.6 251.2,125.3 249.2,125.1 246.2,125.7 237.2,128.7 233.2,129.1 227.3,129.1 227.3,103.2 232.2,103.2 234.7,103.5 237.2,103.5 242.7,105.1 247.2,106.2 251.2,106.2 253.2,106.6 255.2,106.6 256.7,106.2 259.7,104.3 260.8,102.9 261.5,100.4 261.5,98.4 261.3,97.4 257.7,92.2 257.1,90.9 259.1,87.4 260.3,84.4 260.5,83.4 260.3,81.9 258.8,77.9 258.1,76.9 257.2,76.1 253.7,74.8 252.2,74.6 247.2,75.7 240.3,77.9 236.7,78.7 227.3,78.6 227.3,60.9 234.2,60.8 235.2,60.5 235.7,60.1 236.1,59.4 236.2,58.4 236.2,49.3 294.7,49.1 354.2,49.3 354.2,58.4 354.3,59.4 354.7,60.1 355.2,60.5 356.2,60.8 362.6,60.9 362.6,78.6 353.7,78.7 350.1,77.9 342.7,75.6 338.7,74.7 337.2,74.7 333.7,75.8 332.7,76.5 331.8,77.9 330.6,80.9 329.9,83.4 330.1,84.4 331.6,88.4 332.7,89.9 333.1,90.9 332.7,92.1 329.9,96.9 329.4,98.4 329.5,99.9 330.1,102.9 330.8,103.9 331.7,104.7 335.2,106.4 336.2,106.6 337.7,106.7 339.7,106.3 342.7,106.2 345.7,105.7 351.2,104.1 353.7,103.6 355.7,103.6 358.2,103.2 362.6,103.2 362.6,129.1 356.7,129.1 352.7,128.7 345.2,126.2 341.2,125.1 339.7,125.1 336.2,126.2 334.7,127.1 333.9,128.4 332.4,133.4 332.5,134.4 332.9,135.4 335.4,139.4 336.9,141.4 336.7,142.4 333.6,147.4 333.4,148.9 333.4,151.4 333.8,152.9 334.8,154.4 336.2,155.7 338.2,157.0 339.7,157.2 341.7,156.8 344.2,156.8 347.2,156.3 352.9,154.4 356.7,153.7 362.6,153.7 362.6,179.1 353.7,179.2 343.2,175.8 341.7,175.6 339.2,175.6 336.7,176.4 335.2,177.6 334.4,178.9 333.0,183.4 333.0,184.4 333.3,185.4 336.4,191.4 336.0,192.4 332.4,197.4 331.9,198.9 332.0,201.4 332.6,203.4 333.3,204.4 334.7,205.7 336.2,206.7 337.2,207.1 340.7,207.2 342.7,206.9 346.2,206.7 354.2,204.2 362.6,204.0 362.6,221.4 356.2,221.5 355.2,221.8 354.7,222.2 354.3,222.9 354.2,223.9 354.2,232.5 353.7,232.5Z"/>
<path fill="#00ff00" fill-rule="evenodd" d="M352.7,232.5 294.7,232.6 237.3,232.5 237.2,223.4 237.0,222.4 236.4,221.4 235.2,220.7 234.2,220.5 227.3,220.4 227.3,206.8 235.7,207.0 244.7,209.3 247.7,209.3 250.2,209.7 253.7,209.6 255.7,208.9 258.7,207.1 259.5,206.4 260.7,204.4 261.1,202.9 261.4,201.4 261.3,198.4 260.7,196.4 260.0,195.4 256.2,191.4 256.3,190.4 257.4,187.9 258.1,185.9 258.4,184.4 258.3,182.4 258.0,180.9 256.7,177.4 255.8,175.9 254.7,174.8 253.7,174.2 251.2,173.4 247.2,173.2 242.7,174.2 236.2,176.4 227.3,176.3 227.3,156.6 232.7,156.5 236.2,156.8 243.2,158.7 250.7,159.5 252.7,159.4 255.2,158.3 257.2,157.0 258.4,155.9 259.2,154.9 259.6,153.9 260.3,150.4 260.3,148.4 259.9,146.9 258.4,144.4 256.7,142.4 256.2,141.4 256.4,140.4 258.6,135.9 258.9,134.4 258.9,132.4 258.7,130.9 257.5,127.4 256.5,125.9 255.2,124.7 251.7,122.9 250.2,122.7 248.7,122.6 245.7,123.2 236.7,125.9 232.7,126.2 227.3,126.1 227.3,106.1 236.7,106.3 246.7,108.6 250.7,108.7 253.2,109.0 255.7,109.0 257.7,108.4 260.7,106.5 261.7,105.7 262.9,103.9 263.8,100.9 263.8,97.9 263.4,96.4 260.2,91.4 260.0,90.9 262.6,84.9 262.8,83.4 262.7,81.9 260.7,76.4 260.0,75.4 258.7,74.2 257.7,73.6 254.7,72.6 252.2,72.2 246.7,73.2 239.2,75.3 236.7,75.8 227.3,75.6 227.3,61.9 234.2,61.8 235.2,61.6 236.4,60.9 237.0,59.9 237.2,58.9 237.2,49.3 294.7,49.2 353.2,49.3 353.2,58.9 353.7,60.4 354.6,61.4 355.7,61.8 362.6,61.9 362.6,75.6 354.2,75.8 351.4,75.4 343.7,73.2 339.2,72.3 336.7,72.3 332.7,73.6 330.9,74.9 329.4,77.4 328.3,80.4 327.6,82.9 327.8,84.9 330.2,90.9 330.2,91.4 327.4,96.4 327.1,97.9 327.1,99.9 327.9,103.9 328.9,105.4 330.2,106.5 334.7,108.8 337.7,109.1 340.2,108.7 343.2,108.7 346.2,108.3 351.4,106.9 354.2,106.4 362.6,106.1 362.6,126.1 357.2,126.2 353.2,125.9 347.2,124.1 342.2,122.8 340.7,122.6 338.7,122.8 334.7,124.1 333.7,124.7 332.7,125.7 331.7,127.4 330.1,132.9 330.1,134.4 330.5,135.9 333.7,141.1 333.9,141.9 331.3,146.9 331.0,148.9 331.2,152.4 331.7,153.9 332.6,155.4 334.7,157.5 337.2,159.1 338.2,159.4 339.7,159.6 342.2,159.2 344.7,159.2 347.7,158.8 354.7,156.9 357.2,156.5 362.6,156.6 362.6,176.2 354.2,176.4 343.2,173.3 341.2,173.2 338.2,173.4 335.2,174.5 334.2,175.2 333.1,176.4 332.3,177.9 330.9,181.9 330.6,183.4 330.8,185.4 333.2,190.4 333.4,191.4 333.0,192.4 330.0,196.9 329.6,198.4 329.6,201.4 329.9,202.9 330.7,204.9 331.7,206.2 333.2,207.6 335.2,208.9 336.2,209.4 337.7,209.6 340.7,209.7 343.2,209.4 346.7,209.2 354.7,207.0 362.6,207.0 362.6,220.4 356.2,220.5 355.2,220.7 354.0,221.4 353.4,222.4 353.2,223.4 353.1,232.5 352.7,232.5Z"/>
<path fill="#96ff0a" fill-rule="evenodd" d="M350.2,232.5 239.7,232.5 239.7,227.4 240.0,222.9 240.6,217.4 241.0,215.9 241.4,214.9 241.9,214.4 243.0,213.9 246.7,213.5 249.7,213.5 255.2,213.0 257.7,212.0 261.2,209.9 262.2,208.9 263.2,207.5 264.2,204.9 264.7,202.4 264.7,197.9 264.2,196.0 263.7,194.9 262.7,193.4 260.8,191.4 260.3,190.4 261.7,185.4 261.7,181.4 261.2,179.6 259.7,175.8 258.7,174.0 257.7,172.8 255.9,171.4 253.4,170.4 251.2,169.8 247.7,169.6 245.7,169.7 242.7,170.2 235.2,172.1 231.2,171.7 227.3,171.7 227.3,161.1 235.2,161.1 242.2,162.5 250.2,163.0 252.7,162.9 254.8,162.4 257.7,160.9 259.8,159.4 261.7,157.3 262.7,155.4 263.2,153.6 263.7,151.4 263.8,149.4 263.7,147.9 263.2,146.0 262.2,144.1 260.4,141.4 260.3,140.9 260.5,139.9 261.7,137.3 262.3,134.4 262.3,130.4 261.2,124.9 260.1,123.4 257.2,121.1 253.2,119.1 246.7,117.3 244.6,115.9 244.2,114.9 244.7,113.9 245.6,113.4 249.7,112.7 254.7,112.6 257.2,112.3 259.2,111.5 262.7,109.4 264.8,107.4 266.2,105.0 267.1,101.9 267.3,98.9 267.2,97.4 266.7,95.3 264.2,90.9 264.3,89.9 265.7,86.3 266.1,84.9 266.2,82.9 266.0,80.9 263.7,74.6 262.7,73.1 261.2,71.7 259.1,70.4 255.2,69.0 253.7,68.7 251.2,68.6 247.2,68.9 243.7,69.0 231.7,67.0 227.3,66.9 227.3,62.8 234.7,62.7 236.2,62.1 237.5,60.9 237.9,59.9 238.1,58.9 238.1,49.3 294.7,49.2 352.3,49.3 352.3,58.9 352.5,59.9 353.2,61.2 354.2,62.1 355.7,62.7 362.6,62.8 362.6,66.9 358.2,67.0 346.7,68.9 343.2,68.9 339.2,68.5 337.2,68.6 335.2,69.0 330.7,70.7 328.4,72.4 326.7,74.9 324.7,80.3 324.2,82.8 324.4,85.4 325.8,89.4 326.2,90.9 326.0,91.9 324.7,94.2 324.0,95.9 323.7,97.4 323.6,99.9 324.4,104.4 325.6,106.9 328.2,109.4 332.8,111.9 335.2,112.5 341.2,112.8 344.1,113.4 345.2,113.9 345.6,114.4 345.7,114.9 345.3,115.9 343.2,117.3 336.7,119.1 332.2,121.0 329.7,122.9 328.8,123.9 328.3,124.9 326.8,131.4 326.6,133.4 326.7,134.9 327.2,136.8 329.5,140.9 329.8,141.9 329.6,142.9 328.2,145.4 327.6,147.9 327.7,152.4 328.2,154.4 328.7,155.6 330.1,157.9 332.2,160.0 335.2,162.0 337.9,162.9 340.2,163.1 342.7,162.8 345.7,162.9 349.7,162.4 355.2,161.2 362.6,161.1 362.6,171.7 358.7,171.7 355.7,172.1 354.7,172.0 345.2,169.9 343.2,169.6 338.7,169.8 336.0,170.4 334.6,170.9 332.7,171.9 331.6,172.9 330.2,174.4 329.2,176.4 327.7,180.7 327.3,182.4 327.2,184.4 327.4,185.9 329.4,190.9 328.9,192.4 327.1,194.9 326.7,196.0 326.2,197.9 326.2,202.4 327.2,206.5 328.2,208.2 329.8,209.9 331.2,210.9 334.2,212.5 337.2,213.2 341.2,213.6 343.7,213.6 346.2,213.9 347.9,214.4 348.5,214.9 348.9,215.9 349.3,217.4 349.9,222.9 350.2,227.4 350.2,232.5Z"/>
<path fill="#ffff14" fill-rule="evenodd" d="M325.7,232.5 264.0,232.5 264.0,227.9 264.5,223.9 265.9,215.4 267.3,210.9 267.4,208.4 266.2,201.5 265.9,197.9 265.5,195.9 264.2,193.4 261.8,190.4 261.8,189.4 262.8,185.9 263.5,181.4 263.6,179.9 260.6,170.4 259.9,167.4 259.7,164.9 259.9,163.4 260.4,161.9 263.5,157.4 264.4,155.4 265.0,152.9 265.1,149.9 264.8,146.9 263.8,144.4 261.9,141.4 261.7,140.4 263.1,136.9 263.7,133.4 265.0,129.9 265.7,125.9 265.5,123.4 264.0,116.9 263.9,115.4 264.0,113.9 265.0,110.9 267.4,106.9 268.1,105.4 268.9,101.9 268.9,98.9 268.5,96.4 268.0,94.9 266.0,91.4 265.6,90.4 267.2,85.4 267.4,82.9 267.3,80.9 266.4,76.9 266.2,70.9 265.7,68.4 264.2,66.9 250.7,57.6 248.6,55.9 247.9,54.9 247.5,53.9 247.4,49.3 342.7,49.3 342.6,53.9 342.2,54.9 341.4,55.9 339.5,57.4 325.2,67.3 324.2,68.4 323.8,70.4 323.7,77.9 323.0,81.9 323.0,83.9 323.3,85.9 324.5,89.4 324.7,90.8 324.3,91.9 322.8,94.4 321.9,96.9 321.4,99.4 321.3,101.4 321.8,104.4 322.2,105.9 324.9,110.9 325.7,112.9 326.0,114.4 325.8,117.4 324.3,123.9 324.3,126.4 325.2,131.1 325.8,136.4 326.3,137.9 328.1,140.9 328.4,141.9 328.4,142.4 326.9,145.4 326.1,147.9 325.7,150.4 325.7,153.4 326.3,155.4 329.4,161.4 330.0,163.4 330.2,165.4 330.0,167.4 329.3,170.4 326.8,177.4 326.3,179.4 326.0,181.4 325.9,183.9 326.2,185.9 326.6,187.4 328.0,190.4 328.0,191.4 326.2,194.2 325.4,195.9 324.4,200.9 322.9,205.4 322.5,208.4 322.6,210.9 324.0,215.4 325.6,225.4 325.9,228.4 325.9,232.5 325.7,232.5Z"/>
<path fill="#ffb000" fill-rule="evenodd" d="M311.2,232.5 278.7,232.5 278.6,226.9 278.1,219.4 277.5,214.9 276.8,212.4 275.4,209.4 274.0,206.9 272.3,204.4 267.7,198.6 265.6,193.9 263.4,190.9 263.0,189.9 263.2,188.4 264.2,185.0 267.0,180.4 268.1,177.9 268.8,175.4 269.3,171.4 268.9,164.9 270.0,159.9 270.2,155.9 270.1,153.9 269.6,152.4 266.2,147.3 264.6,143.9 263.0,141.4 262.7,140.4 264.7,134.7 267.7,131.9 270.8,128.4 272.4,126.4 273.1,124.9 273.8,120.9 273.6,115.4 273.7,113.9 276.1,106.9 276.5,104.9 276.4,100.9 275.8,99.4 270.6,94.4 267.8,90.9 267.2,89.4 268.3,84.9 268.7,79.5 270.6,73.9 272.6,69.4 272.9,67.9 272.7,66.1 272.2,63.7 269.8,54.4 269.6,49.3 320.3,49.3 320.1,54.4 317.2,65.5 316.8,68.4 317.2,69.9 319.2,74.4 321.4,80.9 322.8,88.9 322.3,90.4 320.7,92.4 318.2,95.2 315.2,97.9 313.9,99.4 313.4,100.9 313.3,104.4 313.7,106.9 316.1,113.9 316.2,115.4 316.0,120.9 316.3,123.4 316.8,125.4 317.7,126.9 318.8,128.4 324.2,134.3 325.4,137.9 327.2,141.4 327.2,142.4 326.2,144.2 323.0,147.9 320.3,151.9 319.8,153.4 319.6,155.4 319.8,159.9 320.9,164.9 320.5,171.4 321.0,175.4 321.4,177.4 322.3,179.9 324.7,184.2 325.4,186.9 326.7,190.4 326.2,191.9 323.2,196.6 316.3,205.9 314.4,209.4 313.0,212.4 312.4,214.9 311.9,218.9 311.3,226.4 311.2,232.5Z"/>
<path fill="#ff5a0a" fill-rule="evenodd" d="M295.7,219.6 294.7,219.8 293.2,218.8 289.3,214.9 285.1,209.9 272.7,198.9 267.7,193.0 266.7,191.4 266.0,189.4 266.2,187.5 267.2,185.9 274.5,176.9 277.1,172.9 277.8,170.9 278.4,168.4 278.7,164.4 278.4,160.9 277.9,157.9 277.1,155.4 276.1,153.4 273.7,150.4 266.2,143.4 264.7,141.4 264.4,140.4 264.5,139.9 265.2,138.1 266.2,136.9 271.2,133.2 276.7,128.5 279.4,125.9 281.3,123.4 282.5,121.4 283.1,119.9 284.4,110.9 284.5,106.4 284.4,104.4 284.0,102.9 283.0,100.9 281.8,99.4 280.7,98.4 275.6,94.9 273.9,93.4 271.2,89.9 270.7,88.9 270.6,87.9 270.7,86.0 271.2,83.9 274.7,74.3 277.2,69.0 280.4,64.4 281.5,62.4 282.0,60.9 282.2,59.4 281.9,58.4 279.8,53.9 279.7,49.3 310.2,49.3 310.1,53.9 308.2,57.9 307.7,59.4 307.6,60.9 308.0,63.9 308.8,66.4 311.7,72.8 313.5,77.9 317.7,85.3 318.2,86.7 318.3,87.9 317.8,89.4 316.0,91.4 312.5,94.4 306.8,98.4 305.8,99.4 305.2,100.4 304.5,102.9 304.1,106.4 304.1,111.9 304.5,117.4 305.0,119.9 305.5,121.4 306.8,123.9 308.3,125.9 310.2,128.0 314.0,131.4 321.9,137.4 323.2,138.8 323.7,139.9 323.5,140.9 322.6,142.4 314.6,150.4 312.6,152.9 311.3,155.9 309.4,162.4 309.0,164.9 309.1,166.9 309.4,168.9 310.1,171.4 310.9,173.4 312.9,176.9 315.4,180.4 321.2,186.9 321.9,188.4 321.8,189.9 321.2,191.0 319.6,192.9 313.4,198.9 308.2,203.7 306.0,205.9 302.9,209.9 299.5,215.4 297.2,218.2 295.7,219.6Z"/>
<path fill="#ff0000" fill-rule="evenodd" d="M311.7,145.1 309.7,145.2 308.2,144.6 307.2,143.9 306.3,142.4 306.0,140.9 306.3,139.4 307.4,137.9 308.7,137.1 310.7,136.8 312.2,137.1 313.7,138.2 314.5,139.4 314.8,140.4 314.8,141.4 314.3,142.9 313.2,144.3 311.7,145.1ZM279.2,144.1 277.7,144.3 276.7,144.1 275.7,143.4 275.0,142.4 274.7,141.4 274.9,139.9 275.7,138.6 276.7,138.0 278.2,137.7 279.2,137.9 280.7,138.9 281.3,139.9 281.4,141.4 281.1,142.4 280.4,143.4 279.2,144.1ZM310.7,190.9 310.2,191.2 309.2,191.2 308.4,190.9 307.8,190.4 307.5,189.9 307.3,188.9 307.6,187.9 308.2,187.3 309.2,186.8 310.2,186.9 311.1,187.4 311.5,187.9 311.7,189.4 311.3,190.4 310.7,190.9Z"/>
</g>
<rect x="234.0" y="53.1" width="0.7" height="175.6" fill="#fff" opacity="0.05"/>
<rect x="238.0" y="53.1" width="0.7" height="175.6" fill="#fff" opacity="0.05"/>
<rect x="242.0" y="53.1" width="0.7" height="175.6" fill="#fff" opacity="0.05"/>
<rect x="246.0" y="53.1" width="0.7" height="175.6" fill="#fff" opacity="0.05"/>
<rect x="250.0" y="53.1" width="0.7" height="175.6" fill="#fff" opacity="0.05"/>
<rect x="254.0" y="53.1" width="0.7" height="175.6" fill="#fff" opacity="0.05"/>
<rect x="258.0" y="53.1" width="0.7" height="175.6" fill="#fff" opacity="0.05"/>
<rect x="262.0" y="53.1" width="0.7" height="175.6" fill="#fff" opacity="0.05"/>
<rect x="266.0" y="53.1" width="0.7" height="175.6" fill="#fff" opacity="0.05"/>
<rect x="270.0" y="53.1" width="0.7" height="175.6" fill="#fff" opacity="0.05"/>
<rect x="274.0" y="53.1" width="0.7" height="175.6" fill="#fff" opacity="0.05"/>
<rect x="278.0" y="53.1" width="0.7" height="175.6" fill="#fff" opacity="0.05"/>
<rect x="282.0" y="53.1" width="0.7" height="175.6" fill="#fff" opacity="0.05"/>
<rect x="286.0" y="53.1" width="0.7" height="175.6" fill="#fff" opacity="0.05"/>
<rect x="290.0" y="53.1" width="0.7" height="175.6" fill="#fff" opacity="0.05"/>
<rect x="294.0" y="53.1" width="0.7" height="175.6" fill="#fff" opacity="0.05"/>
<rect x="298.0" y="53.1" width="0.7" height="175.6" fill="#fff" opacity="0.05"/>
<rect x="302.0" y="53.1" width="0.7" height="175.6" fill="#fff" opacity="0.05"/>
<rect x="306.0" y="53.1" width="0.7" height="175.6" fill="#fff" opacity="0.05"/>
<rect x="310.0" y="53.1" width="0.7" height="175.6" fill="#fff" opacity="0.05"/>
<rect x="314.0" y="53.1" width="0.7" height="175.6" fill="#fff" opacity="0.05"/>
<rect x="318.0" y="53.1" width="0.7" height="175.6" fill="#fff" opacity="0.05"/>
<rect x="322.0" y="53.1" width="0.7" height="175.6" fill="#fff" opacity="0.05"/>
<rect x="326.0" y="53.1" width="0.7" height="175.6" fill="#fff" opacity="0.05"/>
<rect x="330.0" y="53.1" width="0.7" height="175.6" fill="#fff" opacity="0.05"/>
<rect x="334.0" y="53.1" width="0.7" height="175.6" fill="#fff" opacity="0.05"/>
<rect x="338.0" y="53.1" width="0.7" height="175.6" fill="#fff" opacity="0.05"/>
<rect x="342.0" y="53.1" width="0.7" height="175.6" fill="#fff" opacity="0.05"/>
<rect x="346.0" y="53.1" width="0.7" height="175.6" fill="#fff" opacity="0.05"/>
<rect x="350.0" y="53.1" width="0.7" height="175.6" fill="#fff" opacity="0.05"/>
<rect x="354.0" y="53.1" width="0.7" height="175.6" fill="#fff" opacity="0.05"/>
<rect x="351.5" y="53.1" width="0.8" height="175.6" fill="#fff" opacity="0.2"/>
<path d="M231,53.1V228.7H358.9V53.1" fill="none" stroke="#2a2a10" stroke-width="0.7" opacity="0.6"/>
<path d="M231,53.4H358.9" fill="none" stroke="#3a2a10" stroke-width="0.7" opacity="0.4"/>
<path d="M215.6,52.1V246.8" stroke="#b4b8c6" stroke-width="1.0" fill="none"/>
<path d="M213.6,244.8H366.8" stroke="#555" stroke-width="1" fill="none"/>
<path d="M212.6,228.1h6" stroke="#8a8fa8" stroke-width="0.9"/>
<text x="210.79999999999998" y="230.4" text-anchor="end" class="tk">0</text>
<path d="M212.6,211.8h6" stroke="#8a8fa8" stroke-width="0.9"/>
<text x="210.79999999999998" y="214.1" text-anchor="end" class="tk">1</text>
<path d="M212.6,195.5h6" stroke="#8a8fa8" stroke-width="0.9"/>
<text x="210.79999999999998" y="197.8" text-anchor="end" class="tk">2</text>
<path d="M212.6,179.2h6" stroke="#8a8fa8" stroke-width="0.9"/>
<text x="210.79999999999998" y="181.5" text-anchor="end" class="tk">3</text>
<path d="M212.6,162.9h6" stroke="#8a8fa8" stroke-width="0.9"/>
<text x="210.79999999999998" y="165.2" text-anchor="end" class="tk">4</text>
<path d="M212.6,146.6h6" stroke="#8a8fa8" stroke-width="0.9"/>
<text x="210.79999999999998" y="148.9" text-anchor="end" class="tk">5</text>
<path d="M212.6,130.3h6" stroke="#8a8fa8" stroke-width="0.9"/>
<text x="210.79999999999998" y="132.6" text-anchor="end" class="tk">6</text>
<path d="M212.6,114.0h6" stroke="#8a8fa8" stroke-width="0.9"/>
<text x="210.79999999999998" y="116.3" text-anchor="end" class="tk">7</text>
<path d="M212.6,97.7h6" stroke="#8a8fa8" stroke-width="0.9"/>
<text x="210.79999999999998" y="100.0" text-anchor="end" class="tk">8</text>
<path d="M212.6,81.4h6" stroke="#8a8fa8" stroke-width="0.9"/>
<text x="210.79999999999998" y="83.7" text-anchor="end" class="tk">9</text>
<path d="M212.6,65.1h6" stroke="#8a8fa8" stroke-width="0.9"/>
<text x="210.79999999999998" y="67.4" text-anchor="end" class="tk">0</text>
<path d="M231.8,241.8v6" stroke="#555" stroke-width="1"/>
<text x="231.8" y="254.0" text-anchor="middle" class="tk">0</text>
<path d="M248.0,241.8v6" stroke="#555" stroke-width="1"/>
<text x="248.0" y="254.0" text-anchor="middle" class="tk">1</text>
<path d="M264.2,241.8v6" stroke="#555" stroke-width="1"/>
<text x="264.2" y="254.0" text-anchor="middle" class="tk">2</text>
<path d="M280.4,241.8v6" stroke="#555" stroke-width="1"/>
<text x="280.4" y="254.0" text-anchor="middle" class="tk">3</text>
<path d="M296.6,241.8v6" stroke="#555" stroke-width="1"/>
<text x="296.6" y="254.0" text-anchor="middle" class="tk">4</text>
<path d="M312.8,241.8v6" stroke="#555" stroke-width="1"/>
<text x="312.8" y="254.0" text-anchor="middle" class="tk">5</text>
<path d="M329.0,241.8v6" stroke="#555" stroke-width="1"/>
<text x="329.0" y="254.0" text-anchor="middle" class="tk">6</text>
<path d="M345.2,241.8v6" stroke="#555" stroke-width="1"/>
<text x="345.2" y="254.0" text-anchor="middle" class="tk">7</text>
<path d="M361.4,241.8v6" stroke="#555" stroke-width="1"/>
<text x="361.4" y="254.0" text-anchor="middle" class="tk">8</text>
<text x="357.8" y="262.6" text-anchor="middle" class="al">X [m]</text>
<text transform="translate(198.6,65) rotate(-90)" text-anchor="middle" class="al">Y [m]</text>
<path d="M229.6,183.7l7,7M229.6,190.7l7,-7" stroke="#f6dcea" stroke-width="0.9" fill="none" opacity="0.9"/>
<circle cx="277.8" cy="141.1" r="1.5" fill="#ee1010" opacity="0.8"/>
<circle cx="310.8" cy="141.1" r="2.1" fill="#ee1010" opacity="0.8"/>
<circle cx="310.8" cy="141.4" r="1.2" fill="#a01414" opacity="0.8"/>
<circle cx="309.7" cy="189.0" r="1.1" fill="#e01010" opacity="0.8"/>
<text x="290.6" y="48" text-anchor="middle" class="pt">7%</text>
<rect x="403.1" y="183.3" width="8.5" height="20.9" fill="#56058f"/>
<rect x="535.9" y="183.3" width="7.9" height="20.9" fill="#56058f"/>
<rect x="403.1" y="133.8" width="8.5" height="19.8" fill="#56058f"/>
<rect x="535.9" y="133.8" width="7.9" height="19.8" fill="#56058f"/>
<rect x="403.1" y="82.8" width="8.5" height="20.6" fill="#56058f"/>
<rect x="535.9" y="82.8" width="7.9" height="20.6" fill="#56058f"/>
<rect x="403.1" y="55.2" width="8.5" height="5.6" fill="#56058f"/>
<rect x="535.9" y="55.2" width="7.9" height="5.6" fill="#56058f"/>
<rect x="403.1" y="226.0" width="8.5" height="5.6" fill="#56058f"/>
<rect x="535.9" y="226.0" width="7.9" height="5.6" fill="#56058f"/>
<g filter="url(#bl)" clip-path="url(#cp2)">
<rect x="406.6" y="51.2" width="134.3" height="184.4" fill="#56058f"/>
<path fill="#0000ff" fill-rule="evenodd" d="M533.7,235.4 529.7,235.5 474.2,235.6 414.8,235.4 414.1,235.3 414.1,227.4 413.8,226.4 412.8,226.1 406.9,226.1 406.7,221.9 406.9,203.6 414.8,203.6 416.3,204.0 418.8,204.2 427.3,206.5 429.8,206.6 431.8,207.1 435.8,207.1 437.3,206.7 439.3,205.5 439.8,204.8 440.1,202.9 439.9,201.9 439.3,200.8 436.5,197.9 433.8,194.4 433.8,193.9 434.1,193.4 435.5,191.9 436.8,189.9 438.3,186.9 437.8,184.9 436.8,182.4 435.8,181.4 433.8,180.7 431.8,180.7 428.8,181.3 419.3,184.6 416.3,184.7 414.3,185.2 406.9,185.2 406.7,172.4 406.9,153.6 414.3,153.6 415.8,154.0 418.3,154.3 426.3,156.5 428.8,156.6 430.8,157.1 433.8,157.1 435.3,156.7 437.6,155.4 437.9,154.9 438.4,152.4 438.3,151.9 436.8,149.4 434.2,145.4 433.8,144.4 434.1,143.4 435.5,141.9 436.8,139.9 438.3,136.9 437.8,134.9 436.8,132.4 435.8,131.4 433.8,130.8 431.8,130.8 428.8,131.4 419.3,134.7 415.8,134.8 413.8,135.2 406.9,135.2 406.7,117.9 406.9,102.7 410.8,102.7 412.8,103.1 417.3,103.2 420.3,103.8 422.3,104.5 428.8,106.1 432.3,106.1 434.3,106.6 436.8,106.6 437.9,106.4 440.8,104.9 441.5,103.9 442.0,101.9 441.8,100.9 437.8,93.9 437.9,92.9 439.8,89.4 440.7,85.9 439.1,81.9 438.3,80.9 434.8,79.8 427.8,81.4 419.3,84.2 414.3,84.2 411.8,84.7 406.9,84.7 406.6,65.9 406.9,61.2 412.8,61.2 413.8,60.9 414.1,59.9 414.1,51.5 418.3,51.2 472.8,51.2 529.7,51.2 533.2,51.4 533.9,51.5 533.9,59.9 534.2,60.9 535.2,61.2 540.6,61.2 540.9,65.9 540.6,84.7 536.2,84.7 533.7,84.2 528.7,84.2 518.2,80.9 513.2,79.8 509.4,80.9 508.7,81.9 507.7,84.4 507.1,86.4 507.7,88.9 509.3,92.9 509.4,93.9 506.1,99.9 505.7,100.9 505.5,101.9 505.7,103.4 506.5,104.9 509.7,106.4 510.7,106.6 513.2,106.6 515.2,106.1 518.7,106.1 530.7,103.2 535.2,103.1 536.7,102.9 540.6,102.9 540.8,117.9 540.6,135.2 533.7,135.2 531.7,134.8 528.7,134.7 520.2,131.9 515.7,130.8 513.7,130.7 511.2,131.4 510.4,131.9 509.2,134.4 508.6,136.4 508.7,137.5 510.2,140.4 511.7,142.2 512.9,143.9 513.0,144.4 512.3,145.9 510.2,148.9 508.7,151.9 508.5,153.4 508.7,154.4 509.2,155.3 510.1,155.9 512.7,157.0 516.2,157.1 518.2,156.6 521.2,156.5 529.2,154.3 531.7,154.0 533.2,153.6 540.6,153.6 540.8,172.4 540.6,185.2 533.7,185.2 531.7,184.7 528.7,184.6 520.2,181.8 515.2,180.7 513.2,180.7 511.1,181.4 510.4,181.9 510.0,182.4 508.7,185.9 508.6,186.9 510.2,190.4 511.7,192.2 512.9,193.9 513.0,194.4 512.5,195.4 509.5,198.4 507.5,200.9 506.7,202.4 507.1,204.9 507.4,205.4 509.7,206.7 511.2,207.1 515.2,207.1 517.2,206.6 520.2,206.5 529.2,204.1 531.7,204.0 533.2,203.6 540.6,203.6 540.8,221.9 540.6,226.1 535.2,226.1 534.2,226.4 533.9,227.4 533.9,235.3 533.7,235.4Z"/>
<path fill="#0a78ff" fill-rule="evenodd" d="M532.7,235.4 473.3,235.6 418.3,235.5 414.9,235.3 414.9,226.9 414.6,225.9 413.8,225.4 413.3,225.3 406.9,225.3 406.7,221.9 406.9,205.0 414.3,205.1 415.8,205.4 417.8,205.6 426.8,207.9 429.3,208.0 431.3,208.4 436.3,208.4 438.3,207.9 439.8,207.0 440.5,206.4 441.2,205.4 441.8,202.4 441.4,201.4 440.4,199.9 437.8,197.1 435.8,194.4 435.8,193.9 436.1,193.4 438.3,190.3 439.5,187.9 439.8,186.9 439.7,185.9 438.2,181.9 437.3,180.7 436.3,180.0 434.3,179.4 431.3,179.4 428.3,180.0 418.8,183.2 415.8,183.3 413.8,183.7 406.9,183.7 406.7,172.4 406.9,155.0 413.8,155.1 415.3,155.5 417.3,155.6 425.8,157.9 428.3,158.0 430.3,158.5 434.3,158.5 435.8,158.1 438.9,156.4 439.3,155.4 439.9,152.4 439.4,150.9 436.0,145.4 435.6,144.4 435.7,143.9 438.3,140.4 439.5,137.9 439.8,136.9 439.7,135.9 438.2,131.9 437.3,130.7 436.3,130.0 434.3,129.4 431.3,129.4 428.3,130.0 418.8,133.2 415.3,133.3 413.3,133.7 406.9,133.8 406.7,117.9 406.9,104.4 416.8,104.6 419.8,105.2 428.3,107.5 431.8,107.5 434.3,108.0 437.3,108.0 438.8,107.6 441.9,105.9 442.7,104.9 443.4,102.4 443.2,100.4 440.0,94.9 439.5,93.4 441.2,89.9 442.2,86.4 442.2,85.4 440.3,80.9 439.4,79.9 438.8,79.5 435.8,78.5 434.3,78.4 427.3,80.0 418.8,82.7 413.8,82.8 411.3,83.3 406.9,83.3 406.7,65.9 406.9,62.0 413.3,62.0 413.8,61.9 414.6,61.4 414.9,60.4 414.9,51.5 418.3,51.3 473.8,51.2 529.7,51.3 533.1,51.5 533.1,60.4 533.4,61.4 534.2,61.9 534.7,62.0 540.6,62.0 540.8,65.9 540.6,83.3 536.7,83.3 534.2,82.8 529.2,82.7 518.7,79.5 513.7,78.4 512.2,78.5 508.7,79.6 508.1,79.9 507.5,80.9 505.7,85.9 505.7,86.9 506.3,89.4 507.7,92.9 507.7,93.9 504.7,99.5 504.1,101.4 504.2,103.5 504.7,105.2 505.1,105.9 508.7,107.6 510.2,108.0 513.2,108.0 515.7,107.5 519.2,107.5 531.2,104.6 540.6,104.5 540.8,117.9 540.6,133.8 534.2,133.7 532.2,133.3 529.2,133.2 520.7,130.5 516.7,129.5 513.2,129.3 510.7,130.0 509.1,130.9 507.8,133.9 507.1,136.4 507.3,137.9 508.2,139.9 509.1,141.4 510.4,142.9 511.1,144.4 510.9,145.4 508.7,148.5 507.2,151.9 507.3,154.9 508.1,156.4 508.8,156.9 512.2,158.4 516.7,158.5 518.7,158.0 521.9,157.9 530.2,155.6 532.2,155.5 534.2,155.1 540.6,155.0 540.8,172.4 540.6,183.7 534.2,183.7 532.2,183.3 529.2,183.2 520.7,180.4 515.7,179.4 512.7,179.4 509.8,180.4 508.8,181.4 507.8,183.9 507.2,185.9 507.2,187.4 508.7,190.8 510.4,192.9 511.0,194.4 510.5,195.4 508.2,197.7 506.1,200.4 505.5,201.4 505.2,202.4 505.7,205.4 506.1,206.4 509.2,208.1 510.7,208.4 515.7,208.4 517.7,208.0 520.7,207.9 529.7,205.6 532.2,205.4 533.7,205.1 540.6,205.0 540.8,221.9 540.6,225.3 534.7,225.3 534.2,225.4 533.4,225.9 533.1,226.9 533.1,235.3 532.7,235.4Z"/>
<path fill="#00ffff" fill-rule="evenodd" d="M531.7,235.4 473.8,235.5 415.8,235.3 415.8,226.9 415.7,225.9 415.3,225.1 414.8,224.7 413.8,224.4 406.9,224.4 406.9,206.5 413.8,206.5 417.8,207.1 426.3,209.3 428.8,209.4 430.8,209.8 436.8,209.8 437.8,209.6 439.8,208.6 440.8,208.0 441.9,206.9 442.7,205.4 443.2,202.4 443.0,201.4 441.8,199.4 439.0,196.4 437.7,194.4 437.7,193.9 439.6,190.9 440.8,188.4 441.2,187.4 441.2,186.4 440.5,183.9 439.3,180.9 438.3,179.7 437.3,178.9 434.8,178.0 431.3,177.9 427.8,178.6 418.3,181.8 415.8,181.9 413.3,182.3 406.9,182.3 406.9,156.5 413.3,156.5 417.3,157.1 425.3,159.3 427.8,159.4 429.8,159.8 434.8,159.8 436.8,159.2 438.8,158.2 439.9,157.4 440.7,155.9 441.3,152.4 441.0,150.9 437.6,145.4 437.3,144.4 439.3,141.4 440.6,138.9 441.2,137.4 441.2,135.9 439.3,130.9 438.3,129.7 437.3,128.9 434.8,128.0 431.3,128.0 427.8,128.6 418.3,131.8 415.3,131.9 412.8,132.3 406.9,132.3 406.9,105.9 416.3,106.0 419.3,106.6 427.8,108.8 431.8,108.9 433.8,109.4 437.8,109.4 439.8,108.7 442.9,106.9 444.0,105.4 444.7,102.9 444.7,100.9 444.5,99.9 441.2,93.9 441.3,92.9 442.5,90.4 443.7,86.4 443.7,85.4 441.6,80.4 440.8,79.3 439.8,78.5 436.3,77.2 434.3,77.0 426.8,78.7 418.3,81.3 413.8,81.4 410.8,81.8 406.9,81.8 406.9,62.9 413.8,62.9 414.8,62.6 415.3,62.2 415.7,61.4 415.8,60.4 415.8,51.5 473.8,51.3 532.2,51.5 532.2,60.4 532.3,61.4 532.7,62.2 533.2,62.6 534.2,62.9 540.6,62.9 540.6,81.8 536.7,81.8 534.7,81.4 529.7,81.3 519.2,78.2 513.7,77.0 512.2,77.1 508.2,78.2 507.2,78.8 506.4,79.9 504.3,85.4 504.3,87.4 505.0,89.9 506.2,93.4 505.9,94.4 503.4,98.9 502.8,100.9 502.8,103.9 503.5,105.9 504.1,106.9 505.2,107.7 509.2,109.3 513.2,109.4 515.7,108.9 519.7,108.8 531.7,106.0 540.6,106.0 540.6,132.3 534.7,132.3 532.2,131.9 529.7,131.8 521.2,129.1 516.7,128.0 512.7,128.0 510.2,128.7 508.1,129.9 507.5,130.9 506.5,133.4 505.8,135.9 506.0,138.4 507.4,141.4 509.2,143.7 509.5,144.4 509.4,144.9 507.4,147.9 506.4,149.9 505.8,151.9 505.8,154.4 506.0,155.4 507.1,157.4 508.2,158.2 511.7,159.8 517.2,159.8 519.2,159.4 522.2,159.3 530.7,157.0 534.7,156.5 540.6,156.5 540.6,182.3 534.7,182.3 532.2,181.9 529.7,181.8 521.2,179.1 515.7,177.9 512.2,178.0 509.2,179.1 508.1,179.9 507.5,180.9 506.0,184.9 505.7,186.9 505.8,187.9 506.4,189.4 507.7,191.9 509.2,193.8 509.3,194.4 504.7,199.9 504.0,201.4 503.8,202.4 504.3,205.9 505.1,207.4 506.2,208.1 508.2,209.2 510.2,209.8 516.2,209.8 518.2,209.4 521.2,209.3 529.7,207.1 532.7,206.8 534.2,206.5 540.6,206.5 540.6,224.4 534.2,224.4 533.2,224.7 532.7,225.1 532.3,225.9 532.2,226.9 532.2,235.3 531.7,235.4Z"/>
<path fill="#00ff00" fill-rule="evenodd" d="M530.7,235.4 416.9,235.3 416.8,226.4 416.6,225.4 416.0,224.4 414.8,223.6 413.8,223.4 406.9,223.3 406.9,209.6 412.8,209.5 416.8,210.0 425.8,212.1 428.3,212.3 430.3,212.6 437.8,212.5 439.3,212.1 441.8,210.8 443.9,208.9 445.2,206.9 446.0,202.9 445.8,200.9 445.2,199.4 443.8,197.4 441.2,194.4 441.4,193.4 443.8,188.4 444.0,186.4 443.8,184.9 441.7,179.4 440.4,177.9 438.8,176.5 435.3,175.2 430.8,175.1 427.3,175.8 417.8,178.8 415.3,178.9 412.8,179.2 406.9,179.2 406.9,159.5 412.3,159.5 416.3,160.0 424.3,162.0 429.3,162.7 435.8,162.5 437.3,162.1 440.3,160.6 441.9,159.4 443.2,157.4 444.0,153.4 444.0,151.4 443.6,149.9 440.8,144.9 441.0,143.9 443.6,138.9 444.0,137.4 443.9,135.4 443.2,132.9 441.7,129.4 440.3,127.8 438.8,126.5 435.3,125.3 430.8,125.2 427.3,125.8 417.8,128.8 414.8,128.9 412.3,129.3 406.9,129.3 406.9,109.0 415.8,109.0 418.8,109.6 427.3,111.6 431.3,111.8 433.8,112.2 438.3,112.1 440.8,111.3 443.8,109.8 444.9,108.9 446.4,106.9 447.5,103.4 447.5,100.9 447.3,99.4 447.0,98.4 444.7,94.4 444.4,93.4 446.3,87.4 446.5,86.4 446.4,84.9 446.0,83.4 443.7,78.4 442.8,77.3 441.3,76.1 436.8,74.5 435.3,74.2 433.8,74.3 426.3,75.8 417.8,78.4 413.3,78.3 410.8,78.7 406.9,78.7 406.9,63.9 413.8,63.9 414.8,63.7 416.0,62.9 416.6,61.9 416.8,60.9 416.8,51.5 473.8,51.3 531.2,51.5 531.2,60.9 531.7,62.5 532.6,63.4 533.7,63.9 540.6,63.9 540.6,78.5 530.2,78.3 519.7,75.4 513.7,74.2 511.7,74.3 507.7,75.4 506.2,76.1 505.2,76.9 504.3,77.9 503.5,79.4 501.6,84.9 501.6,87.9 502.9,93.4 500.3,98.9 500.0,100.9 500.1,104.4 500.8,106.9 501.7,108.4 502.7,109.4 503.7,110.1 508.7,112.1 513.7,112.2 516.2,111.8 520.2,111.6 532.2,109.0 540.6,109.1 540.6,129.3 535.2,129.3 532.7,128.9 530.2,128.8 521.7,126.3 517.2,125.2 511.7,125.3 509.2,126.0 507.7,126.7 506.7,127.4 505.7,128.4 505.0,129.4 503.8,132.4 503.0,135.4 503.0,137.9 503.4,139.4 505.9,144.4 505.7,145.4 503.2,150.4 503.0,151.9 503.0,154.9 503.4,156.4 504.3,158.4 505.2,159.5 506.2,160.3 509.7,162.1 511.2,162.5 517.2,162.7 519.7,162.3 522.7,162.1 531.2,160.0 535.2,159.5 540.6,159.5 540.6,179.2 535.2,179.2 532.7,178.9 530.2,178.8 521.7,176.3 519.2,175.7 515.7,175.1 511.7,175.2 509.2,176.0 507.7,176.7 506.6,177.4 505.7,178.3 505.0,179.4 503.8,182.4 503.0,185.4 503.0,187.4 503.2,188.9 505.4,193.9 505.1,194.9 502.7,197.9 501.8,199.4 501.1,201.4 501.0,202.9 501.6,206.4 502.0,207.9 503.1,209.4 504.2,210.3 507.7,212.1 509.2,212.5 516.2,212.7 518.7,212.3 521.7,212.1 530.7,210.0 535.2,209.5 540.6,209.6 540.6,223.3 534.2,223.4 533.2,223.6 532.0,224.4 531.4,225.4 531.2,226.4 531.1,235.3 530.7,235.4Z"/>
<path fill="#96ff0a" fill-rule="evenodd" d="M519.2,235.3 428.1,235.3 428.2,225.4 428.5,223.9 429.2,222.9 431.3,221.9 433.3,221.4 446.8,219.4 451.1,218.4 452.3,217.4 452.7,216.4 452.8,214.9 452.5,212.9 451.8,210.1 450.5,206.4 449.9,201.9 449.4,199.9 448.8,198.2 446.3,194.4 445.9,193.4 446.2,192.4 447.3,189.7 447.7,187.4 447.7,185.4 447.2,181.4 447.1,178.4 446.3,177.4 442.2,173.9 438.1,171.4 437.5,170.9 437.5,170.4 438.8,169.5 443.9,166.9 445.3,165.6 445.8,162.9 446.9,159.4 447.7,152.9 447.6,150.9 447.3,149.1 445.3,144.9 445.4,143.9 447.3,139.9 447.7,137.9 447.9,134.4 447.4,131.9 446.1,127.9 445.2,125.9 443.7,123.9 439.9,120.4 439.0,118.9 438.8,117.9 438.9,117.4 439.4,116.9 446.3,112.8 448.8,110.3 449.8,108.8 451.4,104.9 452.1,102.4 452.4,99.9 451.8,95.9 450.3,91.4 450.6,84.4 450.4,82.9 449.6,79.4 449.0,78.4 445.8,75.0 443.3,72.9 441.3,71.9 438.3,70.9 436.3,70.5 434.8,70.4 432.3,70.7 421.3,72.9 418.3,73.4 416.8,73.4 411.3,72.7 406.9,72.7 406.9,64.9 414.3,64.8 415.8,64.2 417.1,62.9 417.6,61.9 417.7,60.9 417.7,51.5 530.3,51.5 530.3,60.9 530.4,61.9 531.2,63.3 532.2,64.2 533.7,64.8 540.6,64.9 540.6,72.7 536.2,72.7 531.2,73.3 529.7,73.3 524.7,72.6 515.7,70.6 512.9,70.4 510.7,70.7 506.2,71.9 505.0,72.4 503.4,73.4 501.8,74.9 498.0,79.4 497.3,83.4 497.5,87.4 497.5,90.9 497.2,92.2 496.0,94.9 495.3,98.4 495.1,100.4 495.6,103.4 496.7,106.8 498.2,110.1 499.2,111.4 500.9,112.9 508.1,116.9 508.6,117.4 508.7,117.9 508.5,118.9 507.6,120.4 503.7,123.6 502.1,125.4 500.9,127.9 499.7,131.7 499.2,134.4 499.4,138.4 499.7,140.2 501.4,143.9 501.5,144.9 499.7,149.4 499.3,151.4 499.3,154.4 499.5,156.9 500.1,159.4 502.4,165.9 503.6,166.9 508.7,169.5 509.9,170.4 509.7,170.9 509.1,171.4 505.2,173.5 503.3,174.9 501.2,176.9 500.3,177.9 500.1,178.4 499.3,184.4 499.3,187.4 499.6,189.9 500.8,192.9 500.9,193.9 498.7,197.2 497.6,199.9 497.2,201.9 496.7,206.9 495.2,211.8 494.8,213.9 494.8,216.4 495.2,217.4 496.4,218.4 500.7,219.4 514.2,221.4 516.2,221.9 518.3,222.9 519.0,223.9 519.3,225.4 519.4,235.3 519.2,235.3Z"/>
<path fill="#ffff14" fill-rule="evenodd" d="M486.7,235.3 460.7,235.3 460.7,231.4 461.3,227.9 461.3,225.4 460.5,221.9 460.1,218.4 459.4,215.4 458.0,211.4 456.2,207.4 451.3,200.0 447.8,193.4 447.8,192.4 448.6,189.9 449.8,184.6 450.8,182.9 453.6,179.4 454.5,177.9 455.2,175.4 455.5,172.9 455.2,170.4 452.1,161.4 451.1,159.4 449.3,157.3 448.8,156.5 449.0,152.9 448.9,150.4 448.4,148.4 447.2,145.4 447.1,144.4 447.8,142.7 449.8,139.0 453.4,133.9 454.5,131.4 455.5,128.4 455.9,125.9 455.7,124.4 454.9,122.9 452.9,120.4 452.0,118.9 451.6,117.4 451.7,115.4 452.3,111.4 453.0,108.9 453.8,107.4 457.1,102.9 457.8,101.4 458.0,99.9 457.2,97.4 453.6,89.9 452.9,87.9 452.8,86.4 453.6,80.9 453.7,77.9 453.3,76.2 451.8,72.9 451.5,70.4 450.7,69.4 445.3,66.1 444.2,64.9 443.2,63.4 441.5,59.9 440.3,56.4 440.2,55.4 440.2,51.5 507.3,51.5 507.3,55.4 507.2,56.4 506.0,59.9 504.3,63.4 503.3,64.9 502.2,66.1 500.7,67.2 496.7,69.4 496.0,70.4 495.7,72.9 493.7,76.9 493.4,78.4 493.9,82.4 494.3,83.9 495.4,86.4 495.4,87.9 495.0,88.9 491.6,94.4 490.0,97.9 489.5,99.9 489.7,101.4 490.4,102.9 493.7,107.4 494.5,108.9 495.1,110.9 495.7,114.4 495.9,116.9 495.7,118.4 495.2,119.9 492.8,123.9 492.5,125.4 492.7,126.9 494.1,130.4 497.3,135.9 497.7,136.9 498.4,140.4 500.1,144.4 500.0,145.4 498.8,147.9 498.2,149.9 497.7,155.7 497.2,156.6 495.7,158.4 494.9,159.9 493.8,165.9 492.2,170.9 492.0,172.9 492.3,175.4 493.0,177.9 493.9,179.4 496.7,182.9 497.5,184.4 498.1,188.9 499.3,193.4 497.1,197.4 495.2,201.5 492.5,205.4 491.1,207.9 489.5,211.4 488.1,215.4 487.4,218.4 487.0,221.9 486.2,225.4 486.2,227.9 486.8,231.4 486.7,235.3Z"/>
<path fill="#ffb000" fill-rule="evenodd" d="M478.2,235.3 469.0,235.3 468.9,229.4 468.5,224.9 467.0,216.9 465.6,212.4 463.9,208.9 462.3,206.4 460.6,204.4 455.8,199.4 454.3,197.5 452.4,194.4 451.8,192.4 451.8,190.9 452.5,188.9 454.3,186.0 460.1,178.4 461.7,174.9 462.1,172.4 461.6,169.9 457.8,160.4 456.5,158.4 453.8,155.4 452.8,153.7 451.7,148.9 451.5,146.4 451.6,144.9 452.1,143.4 452.8,142.3 459.2,134.9 462.8,129.9 464.2,127.4 464.7,125.4 464.5,123.4 462.8,119.0 462.3,117.4 461.8,113.9 461.5,110.4 461.8,107.9 464.4,102.4 464.7,100.9 464.6,99.9 463.6,97.9 460.3,94.2 457.3,90.0 456.3,88.1 456.0,86.9 456.2,84.9 458.7,73.4 459.0,70.9 458.7,63.9 457.5,55.9 457.4,51.5 490.1,51.5 490.0,55.9 489.1,63.4 488.5,65.9 487.0,68.9 487.0,69.9 488.9,73.9 489.0,74.9 488.7,77.9 489.1,79.9 491.9,85.9 492.2,87.4 491.7,88.5 490.7,89.9 484.3,96.9 483.4,98.4 482.9,99.4 482.8,100.4 483.0,101.9 483.6,103.4 486.1,107.9 486.4,108.9 486.5,110.4 486.2,113.0 485.2,117.8 483.1,122.9 482.7,124.9 482.9,126.4 484.0,128.4 490.0,135.4 494.2,139.9 496.0,142.4 496.9,144.4 497.0,145.9 496.7,147.3 495.2,150.8 493.2,154.2 489.6,158.4 488.5,160.4 485.7,169.9 485.4,172.4 485.8,174.9 487.2,177.9 494.5,187.9 495.5,189.9 495.8,191.9 495.2,194.1 493.2,197.5 491.7,199.4 486.9,204.4 485.2,206.4 483.6,208.9 481.9,212.4 480.5,216.9 479.0,224.9 478.6,229.4 478.5,235.3 478.2,235.3Z"/>
<path fill="#ff5a0a" fill-rule="evenodd" d="M474.2,92.1 473.8,92.2 472.8,91.8 467.5,87.9 465.8,85.9 465.3,84.4 465.4,83.4 465.9,81.9 468.3,77.9 469.8,76.2 471.7,74.4 472.8,73.7 473.8,73.4 474.7,73.7 475.8,74.4 477.7,76.2 479.2,77.9 481.2,81.6 482.2,84.2 482.6,85.9 482.2,87.3 481.0,88.4 474.2,92.1ZM474.7,201.0 473.8,201.2 472.8,201.0 466.9,198.9 464.8,197.9 462.8,196.4 461.3,194.9 460.3,193.5 459.8,192.4 459.8,190.4 460.3,189.1 461.2,187.4 464.3,183.1 467.9,178.9 469.5,176.4 470.6,173.9 470.8,171.4 470.1,165.9 468.9,162.4 466.8,158.9 462.8,154.0 460.3,150.5 458.8,147.9 458.2,145.9 458.3,144.9 458.9,143.9 461.4,141.9 469.5,136.9 472.8,135.3 474.2,135.1 475.8,135.4 481.2,137.4 485.4,139.4 486.5,140.4 487.3,141.4 488.1,143.4 488.3,144.9 488.2,146.4 487.7,148.2 486.7,150.4 485.3,152.9 483.6,154.9 480.2,157.9 479.2,159.4 478.6,161.4 478.1,165.4 476.9,170.4 476.7,172.4 476.9,173.9 477.3,174.9 478.9,177.9 483.7,183.7 486.7,188.2 487.7,190.4 487.7,192.4 487.2,193.5 486.2,194.9 483.5,197.4 480.6,198.9 474.7,201.0Z"/>
</g>
<rect x="413.6" y="55.2" width="0.7" height="176.4" fill="#fff" opacity="0.05"/>
<rect x="417.6" y="55.2" width="0.7" height="176.4" fill="#fff" opacity="0.05"/>
<rect x="421.6" y="55.2" width="0.7" height="176.4" fill="#fff" opacity="0.05"/>
<rect x="425.6" y="55.2" width="0.7" height="176.4" fill="#fff" opacity="0.05"/>
<rect x="429.6" y="55.2" width="0.7" height="176.4" fill="#fff" opacity="0.05"/>
<rect x="433.6" y="55.2" width="0.7" height="176.4" fill="#fff" opacity="0.05"/>
<rect x="437.6" y="55.2" width="0.7" height="176.4" fill="#fff" opacity="0.05"/>
<rect x="441.6" y="55.2" width="0.7" height="176.4" fill="#fff" opacity="0.05"/>
<rect x="445.6" y="55.2" width="0.7" height="176.4" fill="#fff" opacity="0.05"/>
<rect x="449.6" y="55.2" width="0.7" height="176.4" fill="#fff" opacity="0.05"/>
<rect x="453.6" y="55.2" width="0.7" height="176.4" fill="#fff" opacity="0.05"/>
<rect x="457.6" y="55.2" width="0.7" height="176.4" fill="#fff" opacity="0.05"/>
<rect x="461.6" y="55.2" width="0.7" height="176.4" fill="#fff" opacity="0.05"/>
<rect x="465.6" y="55.2" width="0.7" height="176.4" fill="#fff" opacity="0.05"/>
<rect x="469.6" y="55.2" width="0.7" height="176.4" fill="#fff" opacity="0.05"/>
<rect x="473.6" y="55.2" width="0.7" height="176.4" fill="#fff" opacity="0.05"/>
<rect x="477.6" y="55.2" width="0.7" height="176.4" fill="#fff" opacity="0.05"/>
<rect x="481.6" y="55.2" width="0.7" height="176.4" fill="#fff" opacity="0.05"/>
<rect x="485.6" y="55.2" width="0.7" height="176.4" fill="#fff" opacity="0.05"/>
<rect x="489.6" y="55.2" width="0.7" height="176.4" fill="#fff" opacity="0.05"/>
<rect x="493.6" y="55.2" width="0.7" height="176.4" fill="#fff" opacity="0.05"/>
<rect x="497.6" y="55.2" width="0.7" height="176.4" fill="#fff" opacity="0.05"/>
<rect x="501.6" y="55.2" width="0.7" height="176.4" fill="#fff" opacity="0.05"/>
<rect x="505.6" y="55.2" width="0.7" height="176.4" fill="#fff" opacity="0.05"/>
<rect x="509.6" y="55.2" width="0.7" height="176.4" fill="#fff" opacity="0.05"/>
<rect x="513.6" y="55.2" width="0.7" height="176.4" fill="#fff" opacity="0.05"/>
<rect x="517.6" y="55.2" width="0.7" height="176.4" fill="#fff" opacity="0.05"/>
<rect x="521.6" y="55.2" width="0.7" height="176.4" fill="#fff" opacity="0.05"/>
<rect x="525.6" y="55.2" width="0.7" height="176.4" fill="#fff" opacity="0.05"/>
<rect x="529.6" y="55.2" width="0.7" height="176.4" fill="#fff" opacity="0.05"/>
<rect x="533.6" y="55.2" width="0.7" height="176.4" fill="#fff" opacity="0.05"/>
<rect x="417.9" y="55.2" width="0.8" height="176.4" fill="#fff" opacity="0.2"/>
<path d="M410.6,55.2V231.6H536.9V55.2" fill="none" stroke="#2a2a10" stroke-width="0.7" opacity="0.6"/>
<path d="M410.6,55.5H536.9" fill="none" stroke="#3a2a10" stroke-width="0.7" opacity="0.4"/>
<path d="M395.7,54.2V250.5" stroke="#c2c2c2" stroke-width="0.8" fill="none"/>
<path d="M393.7,248.5H547.8" stroke="#555" stroke-width="1" fill="none"/>
<path d="M394.7,231.3h5" stroke="#888" stroke-width="0.9"/>
<text x="390.9" y="233.6" text-anchor="end" class="tk">0</text>
<path d="M394.7,215.0h5" stroke="#888" stroke-width="0.9"/>
<text x="390.9" y="217.3" text-anchor="end" class="tk">1</text>
<path d="M394.7,198.6h5" stroke="#888" stroke-width="0.9"/>
<text x="390.9" y="200.9" text-anchor="end" class="tk">2</text>
<path d="M394.7,182.3h5" stroke="#888" stroke-width="0.9"/>
<text x="390.9" y="184.6" text-anchor="end" class="tk">3</text>
<path d="M394.7,166.0h5" stroke="#888" stroke-width="0.9"/>
<text x="390.9" y="168.3" text-anchor="end" class="tk">4</text>
<path d="M394.7,149.7h5" stroke="#888" stroke-width="0.9"/>
<text x="390.9" y="152.0" text-anchor="end" class="tk">5</text>
<path d="M394.7,133.3h5" stroke="#888" stroke-width="0.9"/>
<text x="390.9" y="135.6" text-anchor="end" class="tk">6</text>
<path d="M394.7,117.0h5" stroke="#888" stroke-width="0.9"/>
<text x="390.9" y="119.3" text-anchor="end" class="tk">7</text>
<path d="M394.7,100.7h5" stroke="#888" stroke-width="0.9"/>
<text x="390.9" y="103.0" text-anchor="end" class="tk">8</text>
<path d="M394.7,84.3h5" stroke="#888" stroke-width="0.9"/>
<text x="390.9" y="86.6" text-anchor="end" class="tk">9</text>
<path d="M394.7,68.0h5" stroke="#888" stroke-width="0.9"/>
<text x="390.9" y="70.3" text-anchor="end" class="tk">10</text>
<path d="M411.8,245.5v6" stroke="#555" stroke-width="1"/>
<text x="411.8" y="257.7" text-anchor="middle" class="tk">0</text>
<path d="M427.8,245.5v6" stroke="#555" stroke-width="1"/>
<text x="427.8" y="257.7" text-anchor="middle" class="tk">1</text>
<path d="M443.8,245.5v6" stroke="#555" stroke-width="1"/>
<text x="443.8" y="257.7" text-anchor="middle" class="tk">2</text>
<path d="M459.7,245.5v6" stroke="#555" stroke-width="1"/>
<text x="459.7" y="257.7" text-anchor="middle" class="tk">3</text>
<path d="M475.7,245.5v6" stroke="#555" stroke-width="1"/>
<text x="475.7" y="257.7" text-anchor="middle" class="tk">4</text>
<path d="M491.7,245.5v6" stroke="#555" stroke-width="1"/>
<text x="491.7" y="257.7" text-anchor="middle" class="tk">5</text>
<path d="M507.7,245.5v6" stroke="#555" stroke-width="1"/>
<text x="507.7" y="257.7" text-anchor="middle" class="tk">6</text>
<path d="M523.7,245.5v6" stroke="#555" stroke-width="1"/>
<text x="523.7" y="257.7" text-anchor="middle" class="tk">7</text>
<path d="M539.6,245.5v6" stroke="#555" stroke-width="1"/>
<text x="539.6" y="257.7" text-anchor="middle" class="tk">8</text>
<text x="536.8" y="266.3" text-anchor="middle" class="al">X [m]</text>
<text transform="translate(377.6,67) rotate(-90)" text-anchor="middle" class="al">Y [m]</text>
<path d="M410.3,143.8l7,7M410.3,150.8l7,-7" stroke="#f6dcea" stroke-width="0.9" fill="none" opacity="0.9"/>
<path d="M471.1,152.1h6.0M474.1,149.1v6.0M471.9,149.9l4.3,4.3M471.9,154.2l4.3,-4.3" stroke="#2f5a16" stroke-width="0.6" fill="none"/>
<text x="470.3" y="47.3" text-anchor="middle" class="pt">9%</text>
<rect x="580.3" y="182.7" width="9.2" height="20.3" fill="#56058f"/>
<rect x="714.4" y="182.7" width="10.5" height="20.3" fill="#56058f"/>
<rect x="580.3" y="132.8" width="9.2" height="20.8" fill="#56058f"/>
<rect x="714.4" y="132.8" width="10.5" height="20.8" fill="#56058f"/>
<rect x="580.3" y="83.0" width="9.2" height="19.8" fill="#56058f"/>
<rect x="714.4" y="83.0" width="10.5" height="19.8" fill="#56058f"/>
<rect x="580.3" y="55.2" width="9.2" height="5.6" fill="#56058f"/>
<rect x="714.4" y="55.2" width="10.5" height="5.6" fill="#56058f"/>
<rect x="580.3" y="225.0" width="9.2" height="5.6" fill="#56058f"/>
<rect x="714.4" y="225.0" width="10.5" height="5.6" fill="#56058f"/>
<g filter="url(#bl)" clip-path="url(#cp3)">
<rect x="584.5" y="51.2" width="134.9" height="183.4" fill="#56058f"/>
<path fill="#0000ff" fill-rule="evenodd" d="M712.2,234.4 708.7,234.5 652.2,234.6 592.7,234.4 592.0,234.3 592.0,226.4 591.7,225.4 590.7,225.1 584.8,225.1 584.6,221.4 584.8,202.5 591.2,202.5 593.2,203.0 597.2,203.1 608.7,206.0 612.2,206.1 614.2,206.5 618.2,206.5 619.2,206.5 621.2,205.9 623.2,204.8 623.8,203.9 624.0,201.9 623.8,200.9 623.2,199.9 621.3,197.4 619.7,195.7 618.5,193.9 618.3,193.4 618.4,192.9 620.7,188.9 621.5,185.9 621.2,184.4 619.8,181.4 619.5,180.9 618.7,180.4 615.7,179.6 613.2,179.8 608.2,180.9 598.2,184.2 591.7,184.2 589.2,184.7 584.8,184.7 584.6,168.9 584.8,153.0 594.7,153.1 596.2,153.5 598.2,153.7 604.3,155.4 609.2,156.5 613.7,156.5 616.7,157.0 618.2,156.9 621.7,155.3 622.2,154.6 622.8,152.4 622.5,150.9 618.8,143.9 619.5,142.4 621.2,139.9 622.2,137.9 622.6,136.4 622.5,135.4 622.0,133.9 620.7,131.5 620.0,130.9 618.6,130.4 615.7,129.8 611.7,130.7 609.8,130.9 599.2,134.2 596.2,134.3 594.2,134.7 584.8,134.8 584.6,118.4 584.8,102.6 592.7,102.6 594.7,103.0 598.2,103.1 610.2,106.0 614.7,106.1 616.7,106.5 620.2,106.6 621.7,106.4 625.4,104.9 626.0,103.9 626.4,102.4 626.2,101.0 625.7,100.0 621.6,93.9 621.5,92.4 622.7,89.8 623.3,86.9 623.3,85.9 621.5,81.4 621.2,80.9 620.5,80.4 616.2,79.5 610.8,80.4 600.2,83.6 597.2,84.2 584.8,84.3 584.6,64.4 584.8,61.2 590.7,61.2 591.7,60.9 592.0,59.9 592.0,51.5 596.2,51.2 651.2,51.2 708.2,51.2 711.7,51.4 712.4,51.5 712.4,59.9 712.7,60.9 713.7,61.2 719.1,61.2 719.3,64.4 719.1,84.3 713.2,84.2 708.7,82.8 706.6,81.9 704.2,81.6 700.2,81.4 691.7,79.5 688.7,80.2 685.2,80.5 683.2,81.1 682.4,81.9 681.4,84.4 681.1,85.4 681.1,86.4 682.4,89.4 684.3,92.4 684.5,92.9 684.5,93.9 680.7,99.9 679.9,101.4 679.7,102.4 679.8,103.4 680.2,104.4 681.2,105.2 684.2,106.2 686.7,105.9 689.2,106.5 690.2,106.6 692.2,106.5 694.2,106.1 697.7,106.0 700.7,105.5 705.7,105.1 712.7,102.7 719.1,102.6 719.3,118.4 719.1,134.7 713.7,134.6 710.2,133.6 707.7,132.6 704.2,132.1 700.2,131.8 696.7,130.8 691.2,129.8 686.2,131.0 684.7,131.6 684.2,132.2 683.4,133.9 682.8,135.9 682.9,136.9 683.4,138.4 684.2,139.9 685.8,142.4 686.1,143.4 686.0,144.9 683.1,150.4 682.7,151.9 682.8,154.4 683.2,155.1 684.6,155.9 685.7,156.3 690.7,157.0 692.7,156.6 696.7,156.5 700.7,155.9 705.7,155.8 707.7,155.2 709.7,155.0 711.7,154.3 714.7,153.9 719.1,153.8 719.3,168.4 719.1,183.4 714.2,183.3 711.2,182.5 708.2,182.1 706.2,181.5 699.7,181.3 695.7,180.3 691.7,179.6 687.2,180.5 685.2,181.1 684.4,181.9 683.2,184.9 683.1,185.9 684.2,189.0 686.4,192.4 686.6,193.9 686.2,195.1 682.2,200.4 681.5,201.4 681.2,202.4 681.8,204.4 682.2,204.9 683.7,205.7 685.2,206.3 689.7,206.5 693.2,206.5 694.7,206.1 698.2,206.0 701.2,205.4 706.7,205.1 709.2,204.3 711.7,203.8 714.2,202.9 719.1,202.7 719.3,221.4 719.1,225.1 713.7,225.1 712.7,225.4 712.4,226.4 712.4,234.3 712.2,234.4Z"/>
<path fill="#0a78ff" fill-rule="evenodd" d="M711.2,234.4 651.7,234.5 596.2,234.5 592.8,234.3 592.8,225.9 592.5,224.9 591.7,224.4 591.2,224.3 584.8,224.3 584.6,221.4 584.8,205.0 588.7,205.0 590.7,204.7 592.7,204.8 596.7,204.5 601.2,205.4 608.2,207.2 611.7,207.3 613.7,207.7 619.2,207.7 622.2,206.9 623.7,206.1 624.6,205.4 625.0,204.4 625.4,201.4 625.2,200.6 624.4,199.4 622.6,196.9 620.8,194.9 620.0,193.4 620.3,192.4 621.9,189.4 623.0,185.9 622.4,183.9 620.9,180.4 619.7,179.4 615.2,178.1 607.7,179.7 597.7,182.8 590.7,182.5 588.7,182.8 584.8,182.8 584.6,168.9 584.8,154.9 588.7,154.9 594.2,154.6 597.7,155.0 608.7,157.7 613.2,157.8 615.2,158.2 617.7,158.3 618.7,158.1 622.7,156.2 623.4,155.4 624.1,152.4 624.0,151.4 623.7,150.4 622.2,147.4 621.0,145.4 620.4,143.9 620.8,142.9 621.9,141.4 623.2,138.9 624.0,136.4 623.9,135.4 623.0,132.9 621.7,130.6 620.7,129.7 616.7,128.6 615.2,128.6 611.2,129.5 609.2,129.7 604.2,131.4 598.7,132.8 595.7,132.5 593.7,132.6 588.7,131.5 584.8,131.5 584.8,105.9 588.7,105.9 592.2,105.0 594.2,105.0 597.7,104.6 602.5,105.4 609.7,107.2 614.2,107.3 616.7,107.8 621.2,107.8 622.2,107.6 626.4,105.9 627.1,104.9 627.6,102.9 627.5,100.9 627.2,99.9 622.9,93.4 623.0,92.4 624.0,89.9 624.5,87.4 624.5,85.4 622.7,80.9 622.1,79.9 621.2,79.3 616.2,78.1 608.7,79.6 603.2,81.4 599.7,82.3 596.7,82.6 593.7,82.2 588.7,81.0 584.8,81.0 584.8,62.0 591.2,62.0 591.7,61.9 592.5,61.4 592.8,60.4 592.8,51.5 596.2,51.3 651.7,51.3 708.2,51.3 711.6,51.5 711.6,60.4 711.9,61.4 712.7,61.9 713.2,62.0 719.1,62.0 719.1,80.8 714.2,80.8 712.7,80.4 709.2,80.3 707.2,79.8 699.7,79.8 697.7,79.5 691.7,78.1 688.2,78.8 686.2,78.6 682.2,79.4 681.5,79.9 681.0,80.9 679.7,84.1 679.2,85.9 680.0,88.4 682.7,93.4 681.9,94.9 679.0,99.4 678.3,100.9 678.1,101.9 678.1,103.9 678.8,105.9 679.5,106.4 683.7,108.0 684.7,108.0 686.7,107.5 691.7,107.8 694.7,107.3 700.2,107.0 706.7,107.0 708.7,106.6 711.2,106.5 713.2,106.0 719.1,106.0 719.1,131.1 715.2,131.1 713.7,130.8 711.2,130.8 708.7,130.3 700.2,130.3 691.7,128.6 689.2,128.9 687.7,128.9 683.7,129.9 683.2,130.2 681.7,133.4 681.1,135.9 681.1,136.9 681.7,138.9 682.7,140.8 684.2,143.0 684.5,143.9 684.4,144.4 681.5,149.9 681.0,151.4 681.1,155.4 681.3,155.9 682.2,156.6 684.7,157.8 685.7,158.1 690.7,158.3 693.7,157.8 699.2,157.5 706.2,157.5 708.2,157.0 710.7,156.9 712.7,156.5 719.1,156.5 719.3,168.4 719.1,180.8 713.7,180.7 712.2,180.3 708.7,180.2 706.7,179.8 699.7,179.7 695.2,178.9 692.2,178.2 691.2,178.2 689.2,178.7 686.7,178.8 684.5,179.4 683.7,179.9 682.7,181.4 681.7,184.1 681.2,185.9 682.7,189.8 684.4,192.4 684.8,193.4 684.6,194.4 681.8,197.9 679.7,201.2 679.7,203.6 680.2,205.5 681.0,206.4 684.2,207.8 686.2,208.0 688.7,207.8 693.2,207.7 695.7,207.3 700.2,207.0 707.7,207.0 709.7,206.5 712.7,206.4 714.2,206.0 719.1,206.0 719.3,221.4 719.1,224.3 713.2,224.3 712.7,224.4 711.9,224.9 711.6,225.9 711.6,234.3 711.2,234.4Z"/>
<path fill="#00ffff" fill-rule="evenodd" d="M710.2,234.4 651.7,234.5 593.7,234.3 593.7,225.9 593.6,224.9 593.2,224.1 592.7,223.7 591.7,223.4 584.8,223.4 584.8,207.6 588.7,207.6 596.6,206.4 600.3,206.9 608.2,208.7 611.2,208.8 613.7,209.3 620.2,209.2 623.2,208.1 624.7,207.3 625.8,206.4 626.5,204.9 627.1,201.4 626.6,199.9 623.8,195.9 622.2,194.2 621.9,193.4 621.9,192.9 623.4,189.9 624.6,185.9 623.9,183.4 622.4,179.9 621.7,178.9 620.7,178.2 619.7,177.7 615.2,176.5 607.7,178.1 597.7,181.1 595.7,181.1 590.2,180.5 584.8,180.6 584.8,157.0 588.7,157.0 593.2,156.4 596.7,156.6 601.1,157.4 603.7,158.2 608.2,159.2 613.2,159.3 615.2,159.8 618.2,159.8 619.7,159.3 622.7,158.1 623.8,157.4 624.9,155.9 625.6,152.4 625.4,150.4 622.2,144.2 622.4,143.4 623.4,141.9 624.9,138.9 625.6,136.4 625.5,135.4 624.9,133.4 623.4,130.4 622.7,129.4 621.7,128.5 619.7,127.7 617.2,127.1 615.2,127.0 611.1,127.9 609.2,128.1 603.6,129.9 599.7,130.9 598.2,131.0 593.2,130.1 588.7,128.1 584.8,128.1 584.8,109.2 588.7,109.2 591.7,107.9 596.7,106.6 597.7,106.5 602.2,107.0 609.7,108.8 614.2,108.9 616.7,109.3 621.7,109.3 622.7,109.1 627.2,107.3 628.4,105.9 629.1,103.4 629.1,100.9 628.9,99.9 628.1,98.4 625.2,94.0 624.7,92.9 625.5,90.4 626.0,87.9 626.0,84.9 623.9,79.9 623.2,78.9 622.2,78.0 617.2,76.6 616.2,76.6 612.1,77.4 610.2,77.6 607.7,78.3 602.7,79.9 598.7,80.6 595.5,80.4 592.7,79.4 588.7,77.6 584.8,77.6 584.8,62.9 591.7,62.9 592.7,62.6 593.2,62.2 593.6,61.4 593.7,60.4 593.7,51.5 651.7,51.3 710.7,51.5 710.7,60.4 710.8,61.4 711.2,62.2 711.7,62.6 712.7,62.9 719.1,62.9 719.1,77.5 713.7,77.5 710.2,78.1 708.2,78.0 700.7,78.4 697.7,77.9 692.2,76.6 691.2,76.6 688.2,77.3 686.7,77.0 685.7,77.1 681.7,78.0 680.7,78.5 679.3,80.9 677.8,84.9 677.7,85.9 678.3,88.4 680.7,92.8 680.8,93.4 680.5,94.4 677.6,98.9 676.8,100.4 676.7,101.4 676.7,104.4 677.7,106.9 678.7,107.7 683.2,109.4 685.2,109.4 686.7,109.0 689.2,109.3 692.7,109.3 694.7,108.9 698.2,108.8 701.2,108.4 707.7,108.8 709.7,108.6 711.7,108.9 713.7,109.0 715.2,109.3 719.1,109.3 719.1,127.6 715.2,127.6 711.7,128.3 709.7,128.2 705.2,128.7 701.2,128.9 692.2,127.0 690.7,127.0 687.2,127.5 683.2,128.5 682.2,129.0 681.6,129.9 680.3,132.9 679.7,135.4 679.7,137.4 680.3,139.4 682.7,143.9 679.8,149.9 679.3,151.9 679.9,156.4 681.2,157.8 684.2,159.2 686.2,159.8 687.7,159.6 689.2,159.8 691.7,159.8 693.7,159.3 697.2,159.3 699.7,158.9 706.7,159.0 708.7,158.6 711.2,158.6 712.7,158.3 719.1,158.4 719.1,178.8 714.7,178.8 712.7,178.5 709.7,178.6 707.2,178.3 700.2,178.3 692.2,176.6 691.2,176.6 688.7,177.3 685.7,177.5 683.7,178.1 683.2,178.4 682.2,179.4 681.6,180.4 679.7,185.4 679.8,186.9 680.8,189.4 681.8,191.4 682.9,192.9 683.1,193.4 682.2,195.1 679.3,198.9 678.2,200.9 678.2,203.9 678.7,205.9 679.2,206.9 680.2,207.7 683.7,209.2 685.2,209.4 693.7,209.2 695.7,208.8 698.7,208.7 701.2,208.4 708.2,208.6 710.2,208.4 713.2,208.7 719.1,208.5 719.1,223.4 712.7,223.4 711.7,223.7 711.2,224.1 710.8,224.9 710.7,225.9 710.7,234.3 710.2,234.4Z"/>
<path fill="#00ff00" fill-rule="evenodd" d="M709.2,234.4 594.8,234.3 594.8,225.4 594.6,224.4 594.0,223.4 593.2,222.7 591.7,222.3 584.8,222.3 584.8,215.5 588.7,215.5 593.8,212.4 595.7,211.5 597.7,211.1 600.2,211.1 602.1,211.4 607.2,212.6 610.2,212.7 613.2,213.1 620.2,213.1 623.7,212.1 627.0,210.4 629.1,208.4 630.1,206.4 630.9,201.9 630.7,199.9 630.2,198.4 626.5,192.9 628.3,186.9 628.4,185.4 628.1,183.9 627.4,181.9 625.4,177.4 624.2,175.9 623.2,175.2 620.7,174.0 616.7,172.8 615.2,172.7 608.7,173.8 600.7,176.1 597.2,176.8 596.2,176.8 594.4,176.4 589.2,174.7 584.8,174.6 584.8,162.9 588.7,162.9 592.7,161.5 596.7,161.1 600.2,161.4 604.7,162.5 608.2,163.1 612.2,163.2 615.2,163.6 619.7,163.4 624.7,161.4 626.7,159.9 627.7,158.7 628.4,157.4 629.4,153.4 629.3,150.9 629.0,149.4 626.8,144.4 627.0,143.4 628.4,140.4 629.2,137.9 629.4,136.4 629.3,134.9 628.4,131.9 627.0,128.9 626.1,127.4 624.7,126.0 623.2,124.9 620.7,124.0 617.7,123.3 615.7,123.2 614.2,123.3 608.2,124.3 602.2,126.1 600.2,126.4 598.2,126.2 596.4,125.4 593.2,122.9 591.2,120.9 589.8,118.9 590.0,117.9 590.7,117.0 594.4,113.4 596.2,112.0 598.7,111.2 601.7,111.0 608.7,112.6 613.2,112.7 615.7,113.1 621.7,113.1 623.7,112.7 628.5,110.9 630.2,109.8 631.2,108.6 631.9,107.4 632.6,105.4 632.9,103.9 632.9,100.9 632.6,98.9 631.4,96.4 629.4,93.4 629.1,92.4 629.8,87.4 629.8,84.9 629.6,83.4 626.9,77.4 626.2,76.4 624.7,75.1 623.7,74.5 622.2,73.9 618.2,72.9 616.2,72.7 609.2,73.9 602.1,75.9 598.7,76.0 596.7,75.3 594.5,73.9 588.7,67.7 584.8,67.7 584.8,64.0 592.2,63.9 593.3,63.4 594.3,62.4 594.7,60.9 594.7,51.5 709.7,51.5 709.7,60.9 710.2,62.5 711.1,63.4 712.2,63.9 719.1,64.0 719.1,67.4 715.2,67.4 710.7,71.0 707.2,73.0 704.7,74.0 702.7,74.4 700.7,74.5 693.2,72.9 691.2,72.7 688.2,73.2 685.2,73.2 680.2,74.4 678.2,75.4 677.2,76.7 676.0,78.9 674.0,84.4 673.9,86.4 674.1,87.9 674.8,89.9 676.2,92.9 676.2,93.4 673.5,98.4 673.1,99.4 672.9,100.9 672.9,104.9 673.8,107.9 675.3,109.9 677.2,111.2 681.7,112.9 683.2,113.2 687.2,113.0 692.7,113.1 695.7,112.7 698.7,112.6 701.2,112.3 703.7,112.6 706.3,113.4 710.2,115.4 712.7,117.4 713.4,118.4 713.3,118.9 712.7,119.7 708.9,122.4 706.2,123.9 703.7,124.7 701.2,124.9 693.2,123.2 691.2,123.2 686.2,123.7 681.2,125.0 679.7,125.9 678.5,127.4 676.6,131.9 675.9,134.9 676.0,138.4 676.8,140.9 678.0,143.4 678.1,144.4 676.0,149.4 675.5,150.9 675.4,152.4 675.8,154.4 676.0,156.9 676.3,157.9 677.2,159.4 678.7,160.7 682.7,162.8 685.7,163.7 691.7,163.6 694.7,163.2 701.7,162.8 709.7,163.4 715.2,164.4 719.1,164.4 719.1,172.8 714.7,172.8 710.2,173.8 701.2,174.5 692.7,172.7 691.2,172.7 688.2,173.4 685.2,173.7 682.7,174.3 680.7,175.4 678.7,177.6 676.8,181.9 675.9,184.9 675.9,186.4 676.1,187.9 678.2,192.9 678.2,193.4 674.8,198.9 674.4,200.4 674.4,203.9 675.0,206.9 675.5,208.4 676.2,209.4 677.7,210.7 682.2,212.8 684.2,213.2 693.7,213.1 701.2,212.3 703.7,212.5 706.7,213.1 711.2,214.6 715.2,216.6 719.1,216.6 719.1,222.3 712.2,222.4 711.0,222.9 710.1,223.9 709.6,225.4 709.6,234.3 709.2,234.4Z"/>
<path fill="#96ff0a" fill-rule="evenodd" d="M679.2,234.3 624.6,234.3 624.6,230.4 625.0,229.4 627.0,227.4 632.1,223.4 634.2,221.4 636.2,218.9 636.5,217.4 636.2,210.2 635.2,205.0 635.1,201.9 634.7,199.4 633.7,196.5 631.4,192.9 631.1,191.9 632.2,187.9 632.4,186.4 632.3,184.4 631.6,179.4 631.7,177.9 634.7,169.9 635.2,168.4 635.5,166.4 635.2,163.4 633.3,158.4 633.2,156.4 633.4,152.4 633.2,149.8 632.7,147.8 631.3,144.4 631.4,143.4 632.2,141.6 633.2,138.5 633.6,135.9 633.8,131.9 634.6,129.4 634.3,128.4 633.7,127.4 629.4,123.4 626.3,121.4 621.7,119.4 620.7,118.9 620.3,118.4 620.5,117.9 625.2,116.5 630.4,114.4 632.1,113.4 633.7,111.9 635.2,109.6 636.7,105.4 637.2,101.9 637.2,99.9 636.2,96.9 633.4,91.9 633.3,90.9 633.8,87.9 633.7,83.9 633.2,81.8 630.0,71.9 629.3,71.4 625.3,69.9 618.2,68.4 616.2,68.3 612.2,68.4 608.7,68.3 596.2,67.3 594.7,66.9 593.7,66.1 592.9,64.9 594.7,63.4 595.5,61.9 595.7,51.5 708.7,51.5 708.8,61.4 709.3,62.9 710.2,63.9 709.7,64.9 708.2,66.4 706.7,67.2 705.2,67.5 697.2,68.1 690.7,68.2 684.7,68.7 679.2,69.8 676.7,70.5 674.3,71.4 673.1,72.4 671.3,76.9 670.5,80.4 670.0,83.9 669.9,85.9 670.1,87.9 670.6,90.4 670.7,92.4 670.2,93.6 668.8,95.9 668.3,97.4 667.9,99.9 669.2,106.7 670.7,110.5 672.7,113.0 674.7,114.5 679.0,116.4 681.0,117.9 680.7,118.4 680.2,118.8 674.5,121.9 672.5,123.4 670.2,126.2 669.2,128.4 669.2,129.9 670.7,132.8 671.8,138.9 673.5,143.9 673.5,144.9 672.2,148.1 671.5,150.4 671.4,152.4 671.6,154.9 671.2,157.5 670.7,159.0 669.2,161.8 668.7,163.4 668.3,165.9 668.7,168.4 669.2,169.9 672.4,178.4 672.3,180.9 671.9,184.4 671.9,186.9 672.2,188.6 673.3,191.9 673.4,192.9 673.0,193.9 671.2,196.9 670.7,198.3 669.2,205.4 668.1,207.9 667.7,210.4 667.4,217.4 667.7,218.9 669.7,221.4 671.8,223.4 676.9,227.4 678.9,229.4 679.3,230.4 679.3,234.3 679.2,234.3Z"/>
<path fill="#ffff14" fill-rule="evenodd" d="M661.2,234.3 642.6,234.3 642.7,229.4 643.9,221.4 644.1,218.4 643.9,214.9 643.0,210.4 642.3,207.9 641.5,205.9 639.3,201.9 636.7,198.9 636.2,198.1 633.8,192.9 633.5,191.9 633.5,190.4 634.6,184.9 635.7,182.4 638.0,177.9 639.5,174.4 641.0,169.4 641.5,165.9 641.0,162.4 640.0,159.4 639.0,157.9 636.2,154.7 635.2,152.9 634.4,148.4 633.1,144.4 633.2,143.4 635.2,138.8 640.2,130.9 640.5,129.9 640.5,128.4 639.4,126.4 637.7,124.5 634.2,121.6 630.1,118.9 629.1,117.9 628.9,117.4 629.3,116.9 632.7,114.8 634.2,113.5 635.6,111.9 636.5,110.4 638.2,106.8 640.9,102.9 641.7,100.9 641.6,99.9 641.2,98.9 640.4,97.9 637.7,95.3 635.7,92.3 635.1,90.9 635.3,84.9 634.6,79.4 635.2,77.5 637.4,72.4 637.8,69.9 637.0,62.4 635.0,55.9 634.9,51.5 669.0,51.5 668.8,56.4 667.2,61.3 666.6,64.4 666.4,67.4 667.2,70.3 667.2,71.4 665.8,75.9 665.5,77.9 665.8,80.4 667.8,85.4 668.2,87.4 668.1,88.4 667.8,89.4 665.0,92.9 661.9,97.9 661.4,98.9 661.2,99.9 661.3,100.9 662.1,102.4 667.2,107.7 669.5,111.9 671.7,114.9 671.8,115.4 671.1,116.4 666.2,121.0 663.8,123.9 662.1,126.9 661.6,128.9 661.6,129.9 662.0,131.4 664.0,135.4 665.3,137.4 669.7,142.9 670.6,144.9 670.5,146.9 669.1,151.9 667.7,154.7 665.0,157.9 663.9,159.4 662.9,162.4 662.4,165.9 662.9,169.4 664.4,174.4 666.1,178.4 668.7,183.4 669.7,185.9 670.5,189.9 670.6,191.4 670.1,193.4 668.2,197.7 664.9,202.4 662.4,206.4 661.5,208.9 660.4,213.4 659.9,216.4 659.8,218.9 660.0,221.4 661.2,229.4 661.2,234.3Z"/>
<path fill="#ffb000" fill-rule="evenodd" d="M652.2,91.5 651.7,91.5 651.2,91.3 649.7,89.1 647.7,84.4 647.2,81.4 647.4,78.4 648.5,74.4 649.7,68.4 650.7,65.6 651.2,64.9 651.7,64.6 652.2,64.6 652.7,64.9 653.4,65.9 653.9,67.4 655.4,74.4 656.2,77.4 656.6,80.9 656.2,83.9 655.2,86.7 653.7,89.9 652.7,91.2 652.2,91.5ZM652.2,112.6 651.7,112.6 650.7,112.2 649.9,111.4 649.6,110.4 649.6,109.4 650.1,108.4 650.7,107.9 651.7,107.5 652.7,107.6 653.2,107.9 654.0,108.9 654.3,109.9 654.1,110.9 653.7,111.7 653.2,112.1 652.2,112.6ZM652.7,205.0 652.2,205.3 651.7,205.3 651.2,205.0 648.8,200.9 645.4,197.9 644.2,196.5 643.2,194.4 642.7,192.4 642.6,190.9 642.9,188.9 643.6,186.9 644.2,185.9 646.8,182.9 647.8,180.4 648.6,176.4 649.5,165.9 649.3,162.4 648.8,159.4 648.1,157.9 645.2,153.4 643.7,150.0 642.7,146.9 642.7,144.5 643.7,142.1 645.7,139.4 649.5,136.4 650.7,135.7 651.7,135.4 652.7,135.6 653.7,136.1 657.3,138.4 659.2,139.9 660.2,141.2 661.2,142.9 661.7,144.3 661.8,145.4 661.6,146.9 660.7,148.9 655.4,158.4 654.8,160.4 654.4,165.4 655.0,173.4 655.9,179.9 656.4,181.4 657.1,182.9 659.7,185.9 660.6,187.4 661.2,189.9 661.2,192.4 660.7,194.4 659.8,196.4 658.5,197.9 655.1,200.9 652.7,205.0Z"/>
</g>
<rect x="591.5" y="55.2" width="0.7" height="175.4" fill="#fff" opacity="0.05"/>
<rect x="595.5" y="55.2" width="0.7" height="175.4" fill="#fff" opacity="0.05"/>
<rect x="599.5" y="55.2" width="0.7" height="175.4" fill="#fff" opacity="0.05"/>
<rect x="603.5" y="55.2" width="0.7" height="175.4" fill="#fff" opacity="0.05"/>
<rect x="607.5" y="55.2" width="0.7" height="175.4" fill="#fff" opacity="0.05"/>
<rect x="611.5" y="55.2" width="0.7" height="175.4" fill="#fff" opacity="0.05"/>
<rect x="615.5" y="55.2" width="0.7" height="175.4" fill="#fff" opacity="0.05"/>
<rect x="619.5" y="55.2" width="0.7" height="175.4" fill="#fff" opacity="0.05"/>
<rect x="623.5" y="55.2" width="0.7" height="175.4" fill="#fff" opacity="0.05"/>
<rect x="627.5" y="55.2" width="0.7" height="175.4" fill="#fff" opacity="0.05"/>
<rect x="631.5" y="55.2" width="0.7" height="175.4" fill="#fff" opacity="0.05"/>
<rect x="635.5" y="55.2" width="0.7" height="175.4" fill="#fff" opacity="0.05"/>
<rect x="639.5" y="55.2" width="0.7" height="175.4" fill="#fff" opacity="0.05"/>
<rect x="643.5" y="55.2" width="0.7" height="175.4" fill="#fff" opacity="0.05"/>
<rect x="647.5" y="55.2" width="0.7" height="175.4" fill="#fff" opacity="0.05"/>
<rect x="651.5" y="55.2" width="0.7" height="175.4" fill="#fff" opacity="0.05"/>
<rect x="655.5" y="55.2" width="0.7" height="175.4" fill="#fff" opacity="0.05"/>
<rect x="659.5" y="55.2" width="0.7" height="175.4" fill="#fff" opacity="0.05"/>
<rect x="663.5" y="55.2" width="0.7" height="175.4" fill="#fff" opacity="0.05"/>
<rect x="667.5" y="55.2" width="0.7" height="175.4" fill="#fff" opacity="0.05"/>
<rect x="671.5" y="55.2" width="0.7" height="175.4" fill="#fff" opacity="0.05"/>
<rect x="675.5" y="55.2" width="0.7" height="175.4" fill="#fff" opacity="0.05"/>
<rect x="679.5" y="55.2" width="0.7" height="175.4" fill="#fff" opacity="0.05"/>
<rect x="683.5" y="55.2" width="0.7" height="175.4" fill="#fff" opacity="0.05"/>
<rect x="687.5" y="55.2" width="0.7" height="175.4" fill="#fff" opacity="0.05"/>
<rect x="691.5" y="55.2" width="0.7" height="175.4" fill="#fff" opacity="0.05"/>
<rect x="695.5" y="55.2" width="0.7" height="175.4" fill="#fff" opacity="0.05"/>
<rect x="699.5" y="55.2" width="0.7" height="175.4" fill="#fff" opacity="0.05"/>
<rect x="703.5" y="55.2" width="0.7" height="175.4" fill="#fff" opacity="0.05"/>
<rect x="707.5" y="55.2" width="0.7" height="175.4" fill="#fff" opacity="0.05"/>
<rect x="711.5" y="55.2" width="0.7" height="175.4" fill="#fff" opacity="0.05"/>
<rect x="599.5" y="55.2" width="0.8" height="175.4" fill="#fff" opacity="0.2"/>
<rect x="604.3" y="55.2" width="0.8" height="175.4" fill="#fff" opacity="0.2"/>
<rect x="684.5" y="55.2" width="0.8" height="175.4" fill="#fff" opacity="0.2"/>
<rect x="689.2" y="55.2" width="0.8" height="175.4" fill="#fff" opacity="0.2"/>
<path d="M588.5,55.2V230.6H715.4V55.2" fill="none" stroke="#2a2a10" stroke-width="0.7" opacity="0.6"/>
<path d="M588.5,55.5H715.4" fill="none" stroke="#3a2a10" stroke-width="0.7" opacity="0.4"/>
<path d="M572.4,54.2V248.6" stroke="#666" stroke-width="0.9" fill="none"/>
<path d="M570.4,246.6H725.9" stroke="#555" stroke-width="1" fill="none"/>
<path d="M569.4,230.3h6" stroke="#555" stroke-width="0.9"/>
<text x="567.6" y="232.6" text-anchor="end" class="tk">0</text>
<path d="M569.4,214.1h6" stroke="#555" stroke-width="0.9"/>
<text x="567.6" y="216.4" text-anchor="end" class="tk">1</text>
<path d="M569.4,197.8h6" stroke="#555" stroke-width="0.9"/>
<text x="567.6" y="200.1" text-anchor="end" class="tk">2</text>
<path d="M569.4,181.6h6" stroke="#555" stroke-width="0.9"/>
<text x="567.6" y="183.9" text-anchor="end" class="tk">3</text>
<path d="M569.4,165.3h6" stroke="#555" stroke-width="0.9"/>
<text x="567.6" y="167.6" text-anchor="end" class="tk">4</text>
<path d="M569.4,149.1h6" stroke="#555" stroke-width="0.9"/>
<text x="567.6" y="151.4" text-anchor="end" class="tk">5</text>
<path d="M569.4,132.9h6" stroke="#555" stroke-width="0.9"/>
<text x="567.6" y="135.2" text-anchor="end" class="tk">6</text>
<path d="M569.4,116.6h6" stroke="#555" stroke-width="0.9"/>
<text x="567.6" y="118.9" text-anchor="end" class="tk">7</text>
<path d="M569.4,100.4h6" stroke="#555" stroke-width="0.9"/>
<text x="567.6" y="102.7" text-anchor="end" class="tk">8</text>
<path d="M569.4,84.1h6" stroke="#555" stroke-width="0.9"/>
<text x="567.6" y="86.4" text-anchor="end" class="tk">9</text>
<path d="M569.4,67.9h6" stroke="#555" stroke-width="0.9"/>
<text x="567.6" y="70.2" text-anchor="end" class="tk">10</text>
<path d="M588.7,243.6v6" stroke="#555" stroke-width="1"/>
<text x="588.7" y="255.8" text-anchor="middle" class="tk">0</text>
<path d="M605.1,243.6v6" stroke="#555" stroke-width="1"/>
<text x="605.1" y="255.8" text-anchor="middle" class="tk">1</text>
<path d="M621.5,243.6v6" stroke="#555" stroke-width="1"/>
<text x="621.5" y="255.8" text-anchor="middle" class="tk">2</text>
<path d="M637.9,243.6v6" stroke="#555" stroke-width="1"/>
<text x="637.9" y="255.8" text-anchor="middle" class="tk">3</text>
<path d="M654.3,243.6v6" stroke="#555" stroke-width="1"/>
<text x="654.3" y="255.8" text-anchor="middle" class="tk">4</text>
<path d="M670.7,243.6v6" stroke="#555" stroke-width="1"/>
<text x="670.7" y="255.8" text-anchor="middle" class="tk">5</text>
<path d="M687.1,243.6v6" stroke="#555" stroke-width="1"/>
<text x="687.1" y="255.8" text-anchor="middle" class="tk">6</text>
<path d="M703.5,243.6v6" stroke="#555" stroke-width="1"/>
<text x="703.5" y="255.8" text-anchor="middle" class="tk">7</text>
<path d="M719.9,243.6v6" stroke="#555" stroke-width="1"/>
<text x="719.9" y="255.8" text-anchor="middle" class="tk">8</text>
<text x="714.8" y="264.4" text-anchor="middle" class="al">X [m]</text>
<text transform="translate(554.6,67) rotate(-90)" text-anchor="middle" class="al">Y [m]</text>
<path d="M587.1,143.1l7,7M587.1,150.1l7,-7" stroke="#f6dcea" stroke-width="0.9" fill="none" opacity="0.9"/>
<path d="M648.2,189.8h7.4M652.0,186.1v7.4M649.3,187.2l5.3,5.3M649.3,192.5l5.3,-5.3" stroke="#2f5a16" stroke-width="0.6" fill="none"/>
<text x="649.2" y="47.3" text-anchor="middle" class="pt">11%</text>
</svg></body></html>
